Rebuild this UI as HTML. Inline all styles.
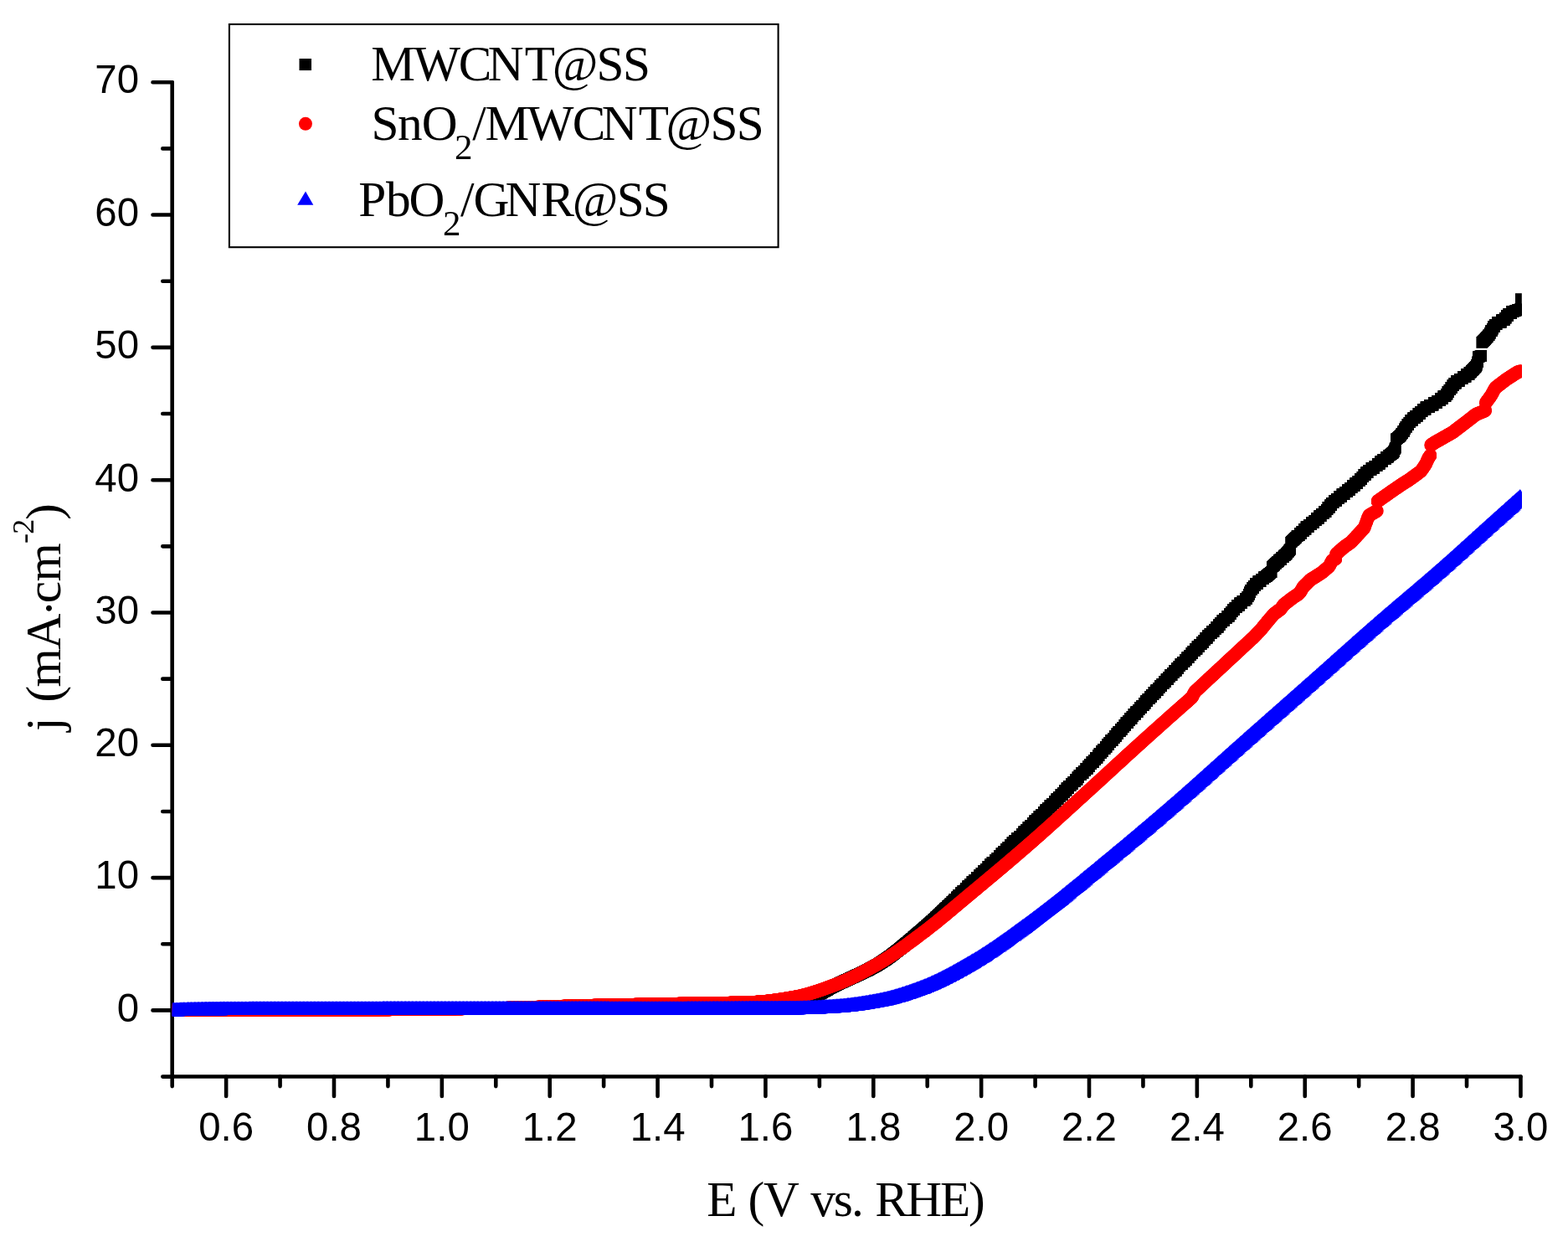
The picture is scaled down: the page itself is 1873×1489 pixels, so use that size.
<!DOCTYPE html>
<html lang="en"><head><meta charset="utf-8"><title>LSV polarization curves</title>
<style>
html,body{margin:0;padding:0;background:#fff;}
body{width:1873px;height:1489px;overflow:hidden;}
svg{display:block;}
</style></head><body>
<svg xmlns="http://www.w3.org/2000/svg" width="1873" height="1489" viewBox="0 0 1873 1489">
<rect width="1873" height="1489" fill="#fff"/>
<g stroke="#000" stroke-width="4.6" stroke-linecap="round" stroke-linejoin="round" fill="none">
<path d="M205.7 98.2V1285.45H1816.5"/>
<path d="M205.7 1285.58h-11.4M205.7 1206.42h-23.2M205.7 1127.27h-11.4M205.7 1048.11h-23.2M205.7 968.96h-11.4M205.7 889.80h-23.2M205.7 810.65h-11.4M205.7 731.49h-23.2M205.7 652.34h-11.4M205.7 573.18h-23.2M205.7 494.03h-11.4M205.7 414.87h-23.2M205.7 335.72h-11.4M205.7 256.56h-23.2M205.7 177.41h-11.4M205.7 98.25h-23.2M205.70 1285.45v11.65M270.13 1285.45v23.6M334.56 1285.45v11.65M398.99 1285.45v23.6M463.42 1285.45v11.65M527.85 1285.45v23.6M592.28 1285.45v11.65M656.71 1285.45v23.6M721.14 1285.45v11.65M785.57 1285.45v23.6M850.00 1285.45v11.65M914.43 1285.45v23.6M978.86 1285.45v11.65M1043.29 1285.45v23.6M1107.72 1285.45v11.65M1172.15 1285.45v23.6M1236.58 1285.45v11.65M1301.01 1285.45v23.6M1365.44 1285.45v11.65M1429.87 1285.45v23.6M1494.30 1285.45v11.65M1558.73 1285.45v23.6M1623.16 1285.45v11.65M1687.59 1285.45v23.6M1752.02 1285.45v11.65M1816.45 1285.45v23.6"/>
</g>
<defs>
<clipPath id="clip"><rect x="205.9" y="0" width="1611.9" height="1489"/></clipPath>
<marker id="mk" markerWidth="13.8" markerHeight="13.8" refX="6.9" refY="6.9" markerUnits="userSpaceOnUse"><rect width="13.8" height="13.8" fill="#000"/></marker>
<marker id="mb" markerWidth="19.0" markerHeight="16.2" refX="9.5" refY="8.1" markerUnits="userSpaceOnUse"><path d="M0 16.2L9.5 0L19.0 16.2Z" fill="#00f"/></marker>
<marker id="mr" markerWidth="15.9" markerHeight="15.9" refX="7.95" refY="7.95" markerUnits="userSpaceOnUse"><circle cx="7.95" cy="7.95" r="7.95" fill="#f00"/></marker>
</defs>
<g clip-path="url(#clip)" fill="none">
<polyline points="205.7,1204.5 206.4,1204.5 207.0,1204.5 207.7,1204.5 208.3,1204.5 209.0,1204.5 209.6,1204.5 210.3,1204.5 210.9,1204.5 211.6,1204.5 212.2,1204.5 212.9,1204.5 213.5,1204.5 214.2,1204.5 214.8,1204.5 215.5,1204.5 216.1,1204.5 216.8,1204.5 217.4,1204.5 218.1,1204.5 218.7,1204.5 219.4,1204.5 220.0,1204.5 220.7,1204.5 221.3,1204.5 222.0,1204.5 222.6,1204.5 223.3,1204.5 223.9,1204.5 224.6,1204.5 225.2,1204.5 225.9,1204.5 226.5,1204.5 227.2,1204.5 227.8,1204.5 228.5,1204.5 229.1,1204.5 229.8,1204.5 230.4,1204.5 231.1,1204.5 231.7,1204.5 232.4,1204.5 233.0,1204.5 233.7,1204.5 234.3,1204.5 235.0,1204.5 235.6,1204.5 236.3,1204.5 236.9,1204.5 237.6,1204.5 238.2,1204.5 238.9,1204.5 239.5,1204.5 240.2,1204.5 240.8,1204.5 241.5,1204.5 242.1,1204.5 242.8,1204.5 243.4,1204.5 244.1,1204.5 244.7,1204.5 245.4,1204.5 246.0,1204.5 246.7,1204.5 247.3,1204.5 248.0,1204.5 248.6,1204.5 249.3,1204.5 249.9,1204.5 250.6,1204.5 251.2,1204.5 251.9,1204.5 252.5,1204.5 253.2,1204.5 253.8,1204.5 254.5,1204.5 255.1,1204.5 255.8,1204.5 256.4,1204.5 257.1,1204.5 257.7,1204.5 258.4,1204.5 259.0,1204.5 259.7,1204.5 260.3,1204.5 261.0,1204.5 261.6,1204.5 262.3,1204.5 262.9,1204.5 263.6,1204.5 264.2,1204.5 264.9,1204.5 265.5,1204.5 266.2,1204.5 266.8,1204.5 267.5,1204.5 268.1,1204.5 268.8,1204.5 269.4,1204.5 270.1,1204.5 270.7,1204.5 271.4,1204.5 272.0,1204.5 272.7,1204.5 273.3,1204.5 274.0,1204.5 274.6,1204.5 275.3,1204.5 275.9,1204.5 276.6,1204.5 277.2,1204.5 277.9,1204.5 278.5,1204.5 279.2,1204.5 279.8,1204.5 280.5,1204.5 281.1,1204.5 281.8,1204.5 282.4,1204.5 283.1,1204.5 283.7,1204.5 284.4,1204.5 285.0,1204.5 285.7,1204.5 286.3,1204.5 287.0,1204.5 287.6,1204.5 288.3,1204.5 288.9,1204.5 289.6,1204.5 290.2,1204.5 290.9,1204.5 291.5,1204.5 292.2,1204.5 292.8,1204.5 293.5,1204.5 294.1,1204.5 294.8,1204.5 295.4,1204.5 296.1,1204.5 296.7,1204.5 297.4,1204.5 298.0,1204.5 298.7,1204.5 299.3,1204.5 300.0,1204.5 300.6,1204.5 301.3,1204.5 301.9,1204.5 302.6,1204.5 303.2,1204.5 303.9,1204.5 304.5,1204.5 305.2,1204.5 305.8,1204.5 306.5,1204.5 307.1,1204.5 307.8,1204.5 308.4,1204.5 309.1,1204.5 309.7,1204.5 310.4,1204.5 311.0,1204.5 311.7,1204.5 312.3,1204.5 313.0,1204.5 313.6,1204.5 314.3,1204.5 314.9,1204.5 315.6,1204.5 316.2,1204.5 316.9,1204.5 317.5,1204.5 318.2,1204.5 318.8,1204.5 319.5,1204.5 320.1,1204.5 320.8,1204.5 321.4,1204.5 322.1,1204.5 322.7,1204.5 323.4,1204.5 324.0,1204.5 324.7,1204.5 325.3,1204.5 326.0,1204.5 326.6,1204.5 327.3,1204.5 327.9,1204.5 328.6,1204.5 329.2,1204.5 329.9,1204.5 330.5,1204.5 331.2,1204.5 331.8,1204.5 332.5,1204.5 333.1,1204.5 333.8,1204.5 334.4,1204.5 335.1,1204.5 335.7,1204.5 336.4,1204.5 337.0,1204.5 337.7,1204.5 338.3,1204.5 339.0,1204.5 339.6,1204.5 340.3,1204.5 340.9,1204.5 341.6,1204.5 342.2,1204.5 342.9,1204.5 343.5,1204.5 344.2,1204.5 344.8,1204.5 345.5,1204.5 346.1,1204.5 346.8,1204.5 347.4,1204.5 348.1,1204.5 348.7,1204.5 349.4,1204.5 350.0,1204.5 350.7,1204.5 351.3,1204.5 352.0,1204.5 352.6,1204.5 353.3,1204.5 353.9,1204.5 354.6,1204.5 355.2,1204.5 355.9,1204.5 356.5,1204.5 357.2,1204.5 357.8,1204.5 358.5,1204.5 359.1,1204.5 359.8,1204.5 360.4,1204.5 361.1,1204.5 361.7,1204.5 362.4,1204.5 363.0,1204.5 363.7,1204.5 364.3,1204.5 365.0,1204.5 365.6,1204.5 366.3,1204.5 366.9,1204.5 367.6,1204.5 368.2,1204.5 368.9,1204.5 369.5,1204.5 370.2,1204.5 370.8,1204.5 371.5,1204.5 372.1,1204.5 372.8,1204.5 373.4,1204.5 374.1,1204.5 374.7,1204.5 375.4,1204.5 376.0,1204.5 376.7,1204.5 377.3,1204.5 378.0,1204.5 378.6,1204.5 379.3,1204.5 379.9,1204.5 380.6,1204.5 381.2,1204.5 381.9,1204.5 382.5,1204.5 383.2,1204.5 383.8,1204.5 384.5,1204.5 385.1,1204.5 385.8,1204.5 386.4,1204.5 387.1,1204.5 387.7,1204.5 388.4,1204.5 389.0,1204.5 389.7,1204.5 390.3,1204.5 391.0,1204.5 391.6,1204.5 392.3,1204.5 392.9,1204.5 393.6,1204.5 394.2,1204.5 394.9,1204.5 395.5,1204.5 396.2,1204.5 396.8,1204.5 397.5,1204.5 398.1,1204.5 398.8,1204.5 399.4,1204.5 400.1,1204.5 400.7,1204.5 401.4,1204.5 402.0,1204.5 402.7,1204.5 403.3,1204.5 404.0,1204.5 404.6,1204.5 405.3,1204.5 405.9,1204.5 406.6,1204.5 407.2,1204.5 407.9,1204.5 408.5,1204.5 409.2,1204.5 409.8,1204.5 410.5,1204.5 411.1,1204.5 411.8,1204.5 412.4,1204.5 413.1,1204.5 413.7,1204.5 414.4,1204.5 415.0,1204.5 415.7,1204.5 416.3,1204.5 417.0,1204.5 417.6,1204.5 418.3,1204.5 418.9,1204.5 419.6,1204.5 420.2,1204.5 420.9,1204.5 421.5,1204.5 422.2,1204.5 422.8,1204.5 423.5,1204.5 424.1,1204.5 424.8,1204.5 425.4,1204.5 426.1,1204.5 426.7,1204.5 427.4,1204.5 428.0,1204.5 428.7,1204.5 429.3,1204.5 430.0,1204.5 430.6,1204.5 431.3,1204.5 431.9,1204.5 432.6,1204.5 433.2,1204.5 433.9,1204.5 434.5,1204.5 435.2,1204.5 435.8,1204.5 436.5,1204.5 437.1,1204.5 437.8,1204.5 438.4,1204.5 439.1,1204.5 439.7,1204.5 440.4,1204.5 441.0,1204.5 441.7,1204.5 442.3,1204.5 443.0,1204.5 443.6,1204.5 444.3,1204.5 444.9,1204.5 445.6,1204.5 446.2,1204.5 446.9,1204.5 447.5,1204.5 448.2,1204.5 448.8,1204.5 449.5,1204.5 450.1,1204.5 450.8,1204.5 451.4,1204.5 452.1,1204.5 452.7,1204.5 453.4,1204.5 454.0,1204.5 454.7,1204.5 455.3,1204.5 456.0,1204.5 456.6,1204.5 457.3,1204.5 457.9,1204.5 458.6,1204.5 459.2,1204.5 459.9,1204.5 460.5,1204.5 461.2,1204.5 461.8,1204.5 462.5,1204.5 463.1,1204.5 463.8,1204.5 464.4,1204.5 465.1,1204.5 465.7,1204.5 466.4,1204.5 467.0,1204.5 467.7,1204.5 468.3,1204.5 469.0,1204.5 469.6,1204.5 470.3,1204.5 470.9,1204.5 471.6,1204.5 472.2,1204.5 472.9,1204.5 473.5,1204.5 474.2,1204.5 474.8,1204.5 475.5,1204.5 476.1,1204.5 476.8,1204.5 477.4,1204.5 478.1,1204.5 478.7,1204.5 479.4,1204.5 480.0,1204.5 480.7,1204.5 481.3,1204.5 482.0,1204.5 482.6,1204.5 483.3,1204.5 483.9,1204.5 484.6,1204.5 485.2,1204.5 485.9,1204.5 486.5,1204.5 487.2,1204.5 487.8,1204.5 488.5,1204.5 489.1,1204.5 489.8,1204.5 490.4,1204.5 491.1,1204.5 491.7,1204.5 492.4,1204.5 493.0,1204.5 493.7,1204.5 494.3,1204.5 495.0,1204.5 495.6,1204.5 496.3,1204.5 496.9,1204.5 497.6,1204.5 498.2,1204.5 498.9,1204.5 499.5,1204.5 500.2,1204.5 500.8,1204.5 501.5,1204.5 502.1,1204.5 502.8,1204.5 503.4,1204.5 504.1,1204.5 504.7,1204.5 505.4,1204.5 506.0,1204.5 506.7,1204.5 507.3,1204.5 508.0,1204.5 508.6,1204.5 509.3,1204.5 509.9,1204.5 510.6,1204.5 511.2,1204.5 511.9,1204.5 512.5,1204.5 513.2,1204.5 513.8,1204.5 514.5,1204.5 515.1,1204.5 515.8,1204.5 516.4,1204.5 517.1,1204.5 517.7,1204.5 518.4,1204.5 519.0,1204.5 519.7,1204.5 520.3,1204.5 521.0,1204.5 521.6,1204.5 522.3,1204.5 522.9,1204.5 523.6,1204.5 524.2,1204.5 524.9,1204.5 525.5,1204.5 526.2,1204.5 526.8,1204.5 527.5,1204.5 528.1,1204.5 528.8,1204.5 529.4,1204.5 530.1,1204.5 530.7,1204.5 531.4,1204.5 532.0,1204.5 532.7,1204.5 533.3,1204.5 534.0,1204.5 534.6,1204.5 535.3,1204.5 535.9,1204.5 536.6,1204.5 537.2,1204.5 537.9,1204.5 538.5,1204.5 539.2,1204.5 539.8,1204.5 540.5,1204.5 541.1,1204.5 541.8,1204.5 542.4,1204.5 543.1,1204.5 543.7,1204.5 544.4,1204.5 545.0,1204.5 545.7,1204.5 546.3,1204.5 547.0,1204.5 547.6,1204.5 548.3,1204.5 548.9,1204.5 549.6,1204.5 550.2,1204.5 550.9,1204.5 551.5,1204.5 552.2,1204.5 552.8,1204.5 553.5,1204.5 554.1,1204.5 554.8,1204.5 555.4,1204.5 556.1,1204.5 556.7,1204.5 557.4,1204.5 558.0,1204.5 558.7,1204.5 559.3,1204.5 560.0,1204.5 560.6,1204.5 561.3,1204.5 561.9,1204.5 562.6,1204.5 563.2,1204.5 563.9,1204.5 564.5,1204.5 565.2,1204.5 565.8,1204.5 566.5,1204.5 567.1,1204.5 567.8,1204.5 568.4,1204.5 569.1,1204.5 569.7,1204.5 570.4,1204.5 571.0,1204.5 571.7,1204.5 572.3,1204.5 573.0,1204.5 573.6,1204.5 574.3,1204.5 574.9,1204.5 575.6,1204.5 576.2,1204.5 576.9,1204.5 577.5,1204.5 578.2,1204.5 578.8,1204.5 579.5,1204.5 580.1,1204.5 580.8,1204.5 581.4,1204.5 582.1,1204.5 582.7,1204.5 583.4,1204.5 584.0,1204.5 584.7,1204.5 585.3,1204.5 586.0,1204.5 586.6,1204.5 587.3,1204.5 587.9,1204.5 588.6,1204.5 589.2,1204.5 589.9,1204.5 590.5,1204.5 591.2,1204.5 591.8,1204.5 592.5,1204.5 593.1,1204.5 593.8,1204.5 594.4,1204.5 595.1,1204.5 595.7,1204.5 596.4,1204.5 597.0,1204.5 597.7,1204.5 598.3,1204.5 599.0,1204.5 599.6,1204.5 600.3,1204.5 600.9,1204.5 601.6,1204.5 602.2,1204.5 602.9,1204.5 603.5,1204.5 604.2,1204.5 604.8,1204.5 605.5,1204.5 606.1,1204.5 606.8,1204.5 607.4,1204.5 608.1,1204.5 608.7,1204.5 609.4,1204.5 610.0,1204.5 610.7,1204.5 611.3,1204.5 612.0,1204.5 612.6,1204.5 613.3,1204.5 613.9,1204.5 614.6,1204.5 615.2,1204.5 615.9,1204.5 616.5,1204.5 617.2,1204.5 617.8,1204.5 618.5,1204.5 619.1,1204.5 619.8,1204.5 620.4,1204.5 621.1,1204.5 621.7,1204.5 622.4,1204.5 623.0,1204.5 623.7,1204.5 624.3,1204.5 625.0,1204.5 625.6,1204.5 626.3,1204.5 626.9,1204.5 627.6,1204.5 628.2,1204.5 628.9,1204.5 629.5,1204.5 630.2,1204.5 630.8,1204.5 631.5,1204.5 632.1,1204.5 632.8,1204.5 633.4,1204.5 634.1,1204.5 634.7,1204.5 635.4,1204.5 636.0,1204.5 636.7,1204.5 637.3,1204.5 638.0,1204.5 638.6,1204.5 639.3,1204.5 639.9,1204.5 640.6,1204.5 641.2,1204.5 641.9,1204.5 642.5,1204.5 643.2,1204.5 643.8,1204.5 644.5,1204.5 645.1,1204.5 645.8,1204.5 646.4,1204.5 647.1,1204.5 647.7,1204.5 648.4,1204.5 649.0,1204.5 649.7,1204.5 650.3,1204.5 651.0,1204.5 651.6,1204.5 652.3,1204.5 652.9,1204.5 653.6,1204.5 654.2,1204.5 654.9,1204.5 655.5,1204.5 656.2,1204.5 656.8,1204.5 657.5,1204.5 658.1,1204.5 658.8,1204.5 659.4,1204.5 660.1,1204.5 660.7,1204.5 661.4,1204.5 662.0,1204.5 662.7,1204.5 663.3,1204.5 664.0,1204.5 664.6,1204.5 665.3,1204.5 665.9,1204.5 666.6,1204.5 667.2,1204.5 667.9,1204.5 668.5,1204.5 669.2,1204.5 669.8,1204.5 670.5,1204.5 671.1,1204.5 671.8,1204.5 672.4,1204.5 673.1,1204.5 673.7,1204.5 674.4,1204.5 675.0,1204.5 675.7,1204.5 676.3,1204.5 677.0,1204.5 677.6,1204.5 678.3,1204.5 678.9,1204.5 679.6,1204.5 680.2,1204.5 680.9,1204.5 681.5,1204.5 682.2,1204.5 682.8,1204.5 683.5,1204.5 684.1,1204.5 684.8,1204.5 685.4,1204.5 686.1,1204.5 686.7,1204.5 687.4,1204.5 688.0,1204.5 688.7,1204.5 689.3,1204.5 690.0,1204.5 690.6,1204.5 691.3,1204.5 691.9,1204.5 692.6,1204.5 693.2,1204.5 693.9,1204.5 694.5,1204.5 695.2,1204.5 695.8,1204.5 696.5,1204.5 697.1,1204.5 697.8,1204.5 698.4,1204.5 699.1,1204.5 699.7,1204.5 700.4,1204.5 701.0,1204.5 701.7,1204.5 702.3,1204.5 703.0,1204.5 703.6,1204.5 704.3,1204.5 704.9,1204.5 705.6,1204.5 706.2,1204.5 706.9,1204.5 707.5,1204.5 708.2,1204.5 708.8,1204.5 709.5,1204.5 710.1,1204.5 710.8,1204.5 711.4,1204.5 712.1,1204.5 712.7,1204.5 713.4,1204.5 714.0,1204.5 714.7,1204.5 715.3,1204.5 716.0,1204.5 716.6,1204.5 717.3,1204.5 717.9,1204.5 718.6,1204.5 719.2,1204.5 719.9,1204.5 720.5,1204.5 721.2,1204.5 721.8,1204.5 722.5,1204.5 723.1,1204.5 723.8,1204.5 724.4,1204.5 725.1,1204.5 725.7,1204.5 726.4,1204.5 727.0,1204.5 727.7,1204.5 728.3,1204.5 729.0,1204.5 729.6,1204.5 730.3,1204.5 730.9,1204.5 731.6,1204.5 732.2,1204.5 732.9,1204.5 733.5,1204.5 734.2,1204.5 734.8,1204.5 735.5,1204.5 736.1,1204.5 736.8,1204.5 737.4,1204.5 738.1,1204.5 738.7,1204.5 739.4,1204.5 740.0,1204.5 740.7,1204.5 741.3,1204.5 742.0,1204.5 742.6,1204.5 743.3,1204.5 743.9,1204.5 744.6,1204.5 745.2,1204.5 745.9,1204.5 746.5,1204.5 747.2,1204.5 747.8,1204.5 748.5,1204.5 749.1,1204.5 749.8,1204.5 750.4,1204.5 751.1,1204.5 751.7,1204.5 752.4,1204.5 753.0,1204.5 753.7,1204.5 754.3,1204.5 755.0,1204.5 755.6,1204.5 756.3,1204.5 756.9,1204.5 757.6,1204.5 758.2,1204.5 758.9,1204.5 759.5,1204.5 760.2,1204.5 760.8,1204.5 761.5,1204.5 762.1,1204.5 762.8,1204.5 763.4,1204.5 764.1,1204.5 764.7,1204.5 765.4,1204.5 766.0,1204.5 766.7,1204.5 767.3,1204.5 768.0,1204.5 768.6,1204.5 769.3,1204.5 769.9,1204.5 770.6,1204.5 771.2,1204.5 771.9,1204.5 772.5,1204.5 773.2,1204.5 773.8,1204.5 774.5,1204.5 775.1,1204.5 775.8,1204.5 776.4,1204.5 777.1,1204.5 777.7,1204.5 778.4,1204.5 779.0,1204.5 779.7,1204.5 780.3,1204.5 781.0,1204.5 781.6,1204.5 782.3,1204.5 782.9,1204.5 783.6,1204.5 784.2,1204.5 784.9,1204.5 785.5,1204.5 786.2,1204.5 786.8,1204.5 787.5,1204.5 788.1,1204.5 788.8,1204.5 789.4,1204.5 790.1,1204.5 790.7,1204.5 791.4,1204.5 792.0,1204.5 792.7,1204.5 793.3,1204.5 794.0,1204.5 794.6,1204.5 795.3,1204.5 795.9,1204.5 796.6,1204.5 797.2,1204.5 797.9,1204.5 798.5,1204.5 799.2,1204.5 799.8,1204.5 800.5,1204.5 801.1,1204.5 801.8,1204.5 802.4,1204.5 803.1,1204.5 803.7,1204.5 804.4,1204.5 805.0,1204.5 805.7,1204.5 806.3,1204.5 807.0,1204.5 807.6,1204.5 808.3,1204.5 808.9,1204.5 809.6,1204.5 810.2,1204.5 810.9,1204.5 811.5,1204.5 812.2,1204.5 812.8,1204.5 813.5,1204.5 814.1,1204.5 814.8,1204.5 815.4,1204.5 816.1,1204.5 816.7,1204.5 817.4,1204.5 818.0,1204.5 818.7,1204.5 819.3,1204.5 820.0,1204.5 820.6,1204.5 821.3,1204.5 821.9,1204.5 822.6,1204.5 823.2,1204.5 823.9,1204.5 824.5,1204.5 825.2,1204.5 825.8,1204.5 826.5,1204.5 827.1,1204.5 827.8,1204.5 828.4,1204.5 829.1,1204.5 829.7,1204.5 830.4,1204.5 831.0,1204.5 831.7,1204.5 832.3,1204.5 833.0,1204.5 833.6,1204.5 834.3,1204.5 834.9,1204.5 835.6,1204.5 836.2,1204.5 836.9,1204.5 837.5,1204.5 838.2,1204.5 838.8,1204.5 839.5,1204.5 840.1,1204.5 840.8,1204.5 841.4,1204.5 842.1,1204.5 842.7,1204.5 843.4,1204.5 844.0,1204.5 844.7,1204.5 845.3,1204.5 846.0,1204.5 846.6,1204.5 847.3,1204.5 847.9,1204.5 848.6,1204.5 849.2,1204.5 849.9,1204.5 850.5,1204.5 851.2,1204.5 851.8,1204.5 852.5,1204.5 853.1,1204.5 853.8,1204.5 854.4,1204.5 855.1,1204.5 855.7,1204.5 856.4,1204.5 857.0,1204.5 857.7,1204.5 858.3,1204.5 859.0,1204.5 859.6,1204.5 860.3,1204.5 860.9,1204.5 861.6,1204.5 862.2,1204.5 862.9,1204.5 863.5,1204.5 864.2,1204.5 864.8,1204.5 865.5,1204.5 866.1,1204.5 866.8,1204.5 867.4,1204.5 868.1,1204.5 868.7,1204.5 869.4,1204.5 870.0,1204.5 870.7,1204.5 871.3,1204.5 872.0,1204.5 872.6,1204.5 873.3,1204.5 873.9,1204.5 874.6,1204.5 875.2,1204.5 875.9,1204.5 876.5,1204.5 877.2,1204.5 877.8,1204.5 878.5,1204.5 879.1,1204.5 879.8,1204.5 880.4,1204.5 881.1,1204.5 881.7,1204.5 882.4,1204.5 883.0,1204.5 883.7,1204.5 884.3,1204.5 885.0,1204.5 885.6,1204.5 886.3,1204.5 886.9,1204.5 887.6,1204.5 888.2,1204.5 888.9,1204.5 889.5,1204.5 890.2,1204.5 890.8,1204.5 891.5,1204.5 892.1,1204.5 892.8,1204.5 893.4,1204.5 894.1,1204.5 894.7,1204.5 895.4,1204.5 896.0,1204.5 896.7,1204.5 897.3,1204.5 898.0,1204.5 898.6,1204.5 899.3,1204.5 899.9,1204.5 900.6,1204.5 901.2,1204.5 901.9,1204.5 902.5,1204.5 903.2,1204.5 903.8,1204.4 904.5,1204.4 905.1,1204.4 905.8,1204.4 906.4,1204.3 907.1,1204.3 907.7,1204.3 908.4,1204.2 909.0,1204.2 909.7,1204.1 910.3,1204.1 911.0,1204.1 911.6,1204.0 912.3,1203.9 912.9,1203.9 913.6,1203.8 914.2,1203.8 914.9,1203.7 915.5,1203.6 916.2,1203.6 916.8,1203.5 917.5,1203.4 918.1,1203.3 918.8,1203.2 919.4,1203.2 920.1,1203.1 920.7,1203.0 921.4,1202.9 922.0,1202.8 922.7,1202.7 923.3,1202.6 924.0,1202.5 924.6,1202.4 925.3,1202.3 925.9,1202.2 926.6,1202.1 927.2,1202.0 927.9,1201.9 928.5,1201.8 929.2,1201.6 929.8,1201.5 930.5,1201.4 931.1,1201.3 931.8,1201.2 932.4,1201.0 933.1,1200.9 933.7,1200.8 934.4,1200.7 935.0,1200.5 935.7,1200.4 936.3,1200.3 937.0,1200.1 937.6,1200.0 938.3,1199.9 938.9,1199.7 939.6,1199.6 940.2,1199.4 940.9,1199.3 941.5,1199.2 942.2,1199.0 942.8,1198.9 943.5,1198.7 944.1,1198.6 944.8,1198.4 945.4,1198.3 946.1,1198.1 946.7,1198.0 947.4,1197.8 948.0,1197.7 948.7,1197.5 949.3,1197.3 950.0,1197.2 950.6,1197.0 951.3,1196.9 951.9,1196.7 952.6,1196.6 953.2,1196.4 953.9,1196.2 954.5,1196.1 955.2,1195.9 955.8,1195.8 956.5,1195.6 957.1,1195.4 957.8,1195.3 958.4,1195.1 959.1,1194.9 959.7,1194.8 960.4,1194.6 961.0,1194.4 961.7,1194.3 962.3,1194.1 963.0,1193.9 963.6,1193.7 964.3,1193.4 964.9,1193.2 965.6,1193.0 966.2,1192.7 966.9,1192.5 967.5,1192.2 968.2,1192.0 968.8,1191.7 969.5,1191.4 970.1,1191.2 970.8,1190.9 971.4,1190.6 972.1,1190.3 972.7,1190.0 973.4,1189.7 974.0,1189.4 974.7,1189.0 975.3,1188.7 976.0,1188.4 976.6,1188.1 977.3,1187.7 977.9,1187.4 978.6,1187.0 979.2,1186.7 979.9,1186.4 980.5,1186.0 981.2,1185.7 981.8,1185.3 982.5,1185.0 983.1,1184.6 983.8,1184.2 984.4,1183.9 985.1,1183.5 985.7,1183.2 986.4,1182.8 987.0,1182.4 987.7,1182.1 988.3,1181.7 989.0,1181.4 989.6,1181.0 990.3,1180.6 990.9,1180.3 991.6,1179.9 992.2,1179.6 992.9,1179.2 993.5,1178.9 994.2,1178.5 994.8,1178.2 995.5,1177.8 996.1,1177.5 996.8,1177.1 997.4,1176.8 998.1,1176.5 998.7,1176.1 999.4,1175.8 1000.0,1175.5 1000.7,1175.2 1001.3,1174.9 1002.0,1174.6 1002.6,1174.3 1003.3,1173.9 1003.9,1173.6 1004.6,1173.3 1005.2,1173.0 1005.9,1172.7 1006.5,1172.4 1007.2,1172.1 1007.8,1171.8 1008.5,1171.5 1009.1,1171.2 1009.8,1170.9 1010.4,1170.6 1011.1,1170.3 1011.7,1170.0 1012.4,1169.7 1013.0,1169.4 1013.7,1169.1 1014.3,1168.8 1015.0,1168.5 1015.6,1168.2 1016.3,1167.9 1016.9,1167.6 1017.6,1167.3 1018.2,1167.0 1018.9,1166.7 1019.5,1166.4 1020.2,1166.1 1020.8,1165.8 1021.5,1165.5 1022.1,1165.2 1022.8,1164.9 1023.4,1164.6 1024.1,1164.3 1024.7,1164.0 1025.4,1163.7 1026.0,1163.4 1026.7,1163.1 1027.3,1162.8 1028.0,1162.5 1028.6,1162.2 1029.3,1161.9 1029.9,1161.6 1030.6,1161.2 1031.2,1160.9 1031.9,1160.6 1032.5,1160.3 1033.2,1160.0 1033.8,1159.6 1034.5,1159.3 1035.1,1159.0 1035.8,1158.7 1036.4,1158.3 1037.1,1158.0 1037.7,1157.7 1038.4,1157.3 1039.0,1157.0 1039.7,1156.6 1040.3,1156.3 1041.0,1155.9 1041.6,1155.6 1042.3,1155.2 1042.9,1154.9 1043.6,1154.5 1044.2,1154.2 1044.9,1153.8 1045.5,1153.4 1046.2,1153.0 1046.8,1152.7 1047.5,1152.3 1048.1,1151.9 1048.8,1151.5 1049.4,1151.1 1050.1,1150.7 1050.7,1150.3 1051.4,1149.9 1052.0,1149.5 1052.7,1149.1 1053.3,1148.7 1054.0,1148.3 1054.6,1147.9 1055.3,1147.4 1055.9,1147.0 1056.6,1146.6 1057.2,1146.1 1057.9,1145.7 1058.5,1145.2 1059.2,1144.8 1059.8,1144.3 1060.5,1143.9 1061.1,1143.4 1061.8,1142.9 1062.4,1142.5 1063.1,1142.0 1063.7,1141.5 1064.4,1141.0 1065.0,1140.5 1065.7,1140.0 1066.3,1139.6 1067.0,1139.1 1067.6,1138.6 1068.3,1138.1 1068.9,1137.6 1069.6,1137.1 1070.2,1136.6 1070.9,1136.0 1071.5,1135.5 1072.2,1135.0 1072.8,1134.5 1073.5,1134.0 1074.1,1133.4 1074.8,1132.9 1075.4,1132.4 1076.1,1131.9 1076.7,1131.3 1077.4,1130.8 1078.0,1130.3 1078.7,1129.7 1079.3,1129.2 1080.0,1128.7 1080.6,1128.1 1081.3,1127.6 1081.9,1127.0 1082.6,1126.5 1083.2,1125.9 1083.9,1125.4 1084.5,1124.8 1085.2,1124.3 1085.8,1123.7 1086.5,1123.2 1087.1,1122.6 1087.8,1122.1 1088.4,1121.5 1089.1,1121.0 1089.7,1120.4 1090.4,1119.9 1091.0,1119.3 1091.7,1118.7 1092.3,1118.2 1093.0,1117.6 1093.6,1117.1 1094.3,1116.5 1094.9,1116.0 1095.6,1115.4 1096.2,1114.9 1096.9,1114.3 1097.5,1113.7 1098.2,1113.2 1098.8,1112.6 1099.5,1112.1 1100.1,1111.5 1100.8,1111.0 1101.4,1110.4 1102.1,1109.8 1102.7,1109.3 1103.4,1108.7 1104.0,1108.2 1104.7,1107.6 1105.3,1107.0 1106.0,1106.4 1106.6,1105.9 1107.3,1105.3 1107.9,1104.7 1108.6,1104.1 1109.2,1103.6 1109.9,1103.0 1110.5,1102.4 1111.2,1101.8 1111.8,1101.2 1112.5,1100.6 1113.1,1100.0 1113.8,1099.4 1114.4,1098.9 1115.1,1098.2 1115.7,1097.6 1116.4,1097.1 1117.0,1096.5 1117.7,1095.7 1118.3,1095.2 1119.0,1094.6 1119.6,1094.1 1120.3,1093.6 1120.9,1092.7 1121.6,1092.2 1122.2,1091.7 1122.9,1091.2 1123.5,1090.1 1124.2,1089.7 1124.8,1089.2 1125.5,1088.8 1126.1,1087.6 1126.8,1087.1 1127.4,1086.7 1128.1,1086.3 1128.7,1085.0 1129.4,1084.6 1130.0,1084.2 1130.7,1083.8 1131.3,1083.5 1132.0,1082.0 1132.6,1081.6 1133.3,1081.3 1133.9,1081.0 1134.6,1079.4 1135.2,1079.1 1135.9,1078.8 1136.5,1078.5 1137.2,1076.8 1137.8,1076.5 1138.5,1076.3 1139.1,1076.0 1139.8,1074.2 1140.4,1073.9 1141.1,1073.7 1141.7,1073.5 1142.4,1071.5 1143.0,1071.3 1143.7,1071.1 1144.3,1071.0 1145.0,1068.9 1145.6,1068.7 1146.3,1068.6 1146.9,1068.4 1147.6,1066.2 1148.2,1066.1 1148.9,1066.0 1149.5,1065.9 1150.2,1063.5 1150.8,1063.5 1151.5,1063.4 1152.1,1063.4 1152.8,1063.3 1153.4,1060.8 1154.1,1060.8 1154.7,1060.8 1155.4,1060.8 1156.0,1058.2 1156.7,1058.2 1157.3,1058.2 1158.0,1058.2 1158.6,1055.6 1159.3,1055.6 1159.9,1055.6 1160.6,1055.6 1161.2,1053.0 1161.9,1053.0 1162.5,1053.0 1163.2,1053.0 1163.8,1050.4 1164.5,1050.4 1165.1,1050.4 1165.8,1050.4 1166.4,1047.8 1167.1,1047.8 1167.7,1047.8 1168.4,1047.8 1169.0,1047.8 1169.7,1045.2 1170.3,1045.2 1171.0,1045.2 1171.6,1045.2 1172.3,1042.6 1172.9,1042.6 1173.6,1042.6 1174.2,1042.6 1174.9,1040.0 1175.5,1040.0 1176.2,1040.0 1176.8,1040.0 1177.5,1037.4 1178.1,1037.4 1178.8,1037.4 1179.4,1037.4 1180.1,1034.8 1180.7,1034.8 1181.4,1034.8 1182.0,1034.8 1182.7,1032.2 1183.3,1032.2 1184.0,1032.2 1184.6,1032.2 1185.3,1029.6 1185.9,1029.6 1186.6,1029.6 1187.2,1029.6 1187.9,1029.6 1188.5,1027.0 1189.2,1027.0 1189.8,1027.0 1190.5,1027.0 1191.1,1024.4 1191.8,1024.4 1192.4,1024.4 1193.1,1024.4 1193.7,1021.8 1194.4,1021.8 1195.0,1021.8 1195.7,1021.8 1196.3,1019.2 1197.0,1019.2 1197.6,1019.2 1198.3,1019.2 1198.9,1016.6 1199.6,1016.6 1200.2,1016.6 1200.9,1016.6 1201.5,1014.0 1202.2,1014.0 1202.8,1014.0 1203.5,1014.0 1204.1,1011.4 1204.8,1011.4 1205.4,1011.4 1206.1,1011.4 1206.7,1008.8 1207.4,1008.8 1208.0,1008.8 1208.7,1008.8 1209.3,1006.2 1210.0,1006.2 1210.6,1006.2 1211.3,1006.2 1211.9,1003.6 1212.6,1003.6 1213.2,1003.6 1213.9,1003.6 1214.5,1001.0 1215.2,1001.0 1215.8,1001.0 1216.5,1001.0 1217.1,1001.0 1217.8,998.4 1218.4,998.4 1219.1,998.4 1219.7,998.4 1220.4,995.8 1221.0,995.8 1221.7,995.8 1222.3,995.8 1223.0,993.2 1223.6,993.2 1224.3,993.2 1224.9,993.2 1225.6,990.6 1226.2,990.6 1226.9,990.6 1227.5,990.6 1228.2,988.0 1228.8,988.0 1229.5,988.0 1230.1,988.0 1230.8,985.4 1231.4,985.4 1232.1,985.4 1232.7,985.4 1233.4,982.8 1234.0,982.8 1234.7,982.8 1235.3,982.8 1236.0,980.2 1236.6,980.2 1237.3,980.2 1237.9,980.2 1238.6,977.6 1239.2,977.6 1239.9,977.6 1240.5,977.6 1241.2,975.0 1241.8,975.0 1242.5,975.0 1243.1,975.0 1243.8,972.4 1244.4,972.4 1245.1,972.4 1245.7,972.4 1246.4,969.8 1247.0,969.8 1247.7,969.8 1248.3,969.8 1249.0,967.2 1249.6,967.2 1250.3,967.2 1250.9,967.2 1251.6,964.6 1252.2,964.6 1252.9,964.6 1253.5,964.6 1254.2,962.0 1254.8,962.0 1255.5,962.0 1256.1,962.0 1256.8,959.4 1257.4,959.4 1258.1,959.4 1258.7,959.4 1259.4,956.8 1260.0,956.8 1260.7,956.8 1261.3,956.8 1262.0,954.2 1262.6,954.2 1263.3,954.2 1263.9,954.2 1264.6,951.6 1265.2,951.6 1265.9,951.6 1266.5,951.6 1267.2,949.0 1267.8,949.0 1268.5,949.0 1269.1,949.0 1269.8,946.4 1270.4,946.4 1271.1,946.4 1271.7,943.8 1272.4,943.8 1273.0,943.8 1273.7,943.8 1274.3,941.2 1275.0,941.2 1275.6,941.2 1276.3,941.2 1276.9,938.6 1277.6,938.6 1278.2,938.6 1278.9,938.6 1279.5,936.0 1280.2,936.0 1280.8,936.0 1281.5,936.0 1282.1,933.4 1282.8,933.4 1283.4,933.4 1284.1,933.4 1284.7,930.8 1285.4,930.8 1286.0,930.8 1286.7,930.8 1287.3,928.2 1288.0,928.2 1288.6,928.2 1289.3,925.6 1289.9,925.6 1290.6,925.6 1291.2,925.6 1291.9,923.0 1292.5,923.0 1293.2,923.0 1293.8,923.0 1294.5,920.4 1295.1,920.4 1295.8,920.4 1296.4,920.4 1297.1,917.8 1297.7,917.8 1298.4,917.8 1299.0,917.8 1299.7,915.2 1300.3,915.2 1301.0,915.2 1301.6,912.6 1302.3,912.6 1302.9,912.6 1303.6,912.6 1304.2,910.0 1304.9,910.0 1305.5,910.0 1306.2,910.0 1306.8,907.4 1307.5,907.4 1308.1,907.4 1308.8,904.8 1309.4,904.8 1310.1,904.8 1310.7,904.8 1311.4,902.2 1312.0,902.2 1312.7,902.2 1313.3,899.6 1314.0,899.6 1314.6,899.6 1315.3,899.6 1315.9,897.0 1316.6,897.0 1317.2,897.0 1317.9,894.4 1318.5,894.4 1319.2,894.4 1319.8,894.4 1320.5,891.8 1321.1,891.8 1321.8,891.8 1322.4,889.2 1323.1,889.2 1323.7,889.2 1324.4,889.2 1325.0,886.6 1325.7,886.6 1326.3,886.6 1327.0,884.0 1327.6,884.0 1328.3,884.0 1328.9,884.0 1329.6,881.4 1330.2,881.4 1330.9,881.4 1331.5,878.8 1332.2,878.8 1332.8,878.8 1333.5,878.8 1334.1,876.2 1334.8,876.2 1335.4,876.2 1336.1,873.6 1336.7,873.6 1337.4,873.6 1338.0,873.6 1338.7,871.0 1339.3,871.0 1340.0,871.0 1340.6,868.4 1341.3,868.4 1341.9,868.4 1342.6,868.4 1343.2,865.8 1343.9,865.8 1344.5,865.8 1345.2,863.2 1345.8,863.2 1346.5,863.2 1347.1,863.2 1347.8,860.6 1348.4,860.6 1349.1,860.6 1349.7,858.0 1350.4,858.0 1351.0,858.0 1351.7,858.0 1352.3,855.4 1353.0,855.4 1353.6,855.4 1354.3,852.8 1354.9,852.8 1355.6,852.8 1356.2,852.8 1356.9,850.2 1357.5,850.2 1358.2,850.2 1358.8,850.2 1359.5,847.6 1360.1,847.6 1360.8,847.6 1361.4,845.0 1362.1,845.0 1362.7,845.0 1363.4,845.0 1364.0,842.4 1364.7,842.4 1365.3,842.4 1366.0,842.4 1366.6,839.8 1367.3,839.8 1367.9,839.8 1368.6,837.2 1369.2,837.2 1369.9,837.2 1370.5,837.2 1371.2,834.6 1371.8,834.6 1372.5,834.6 1373.1,834.6 1373.8,832.0 1374.4,832.0 1375.1,832.0 1375.7,829.4 1376.4,829.4 1377.0,829.4 1377.7,829.4 1378.3,826.8 1379.0,826.8 1379.6,826.8 1380.3,826.8 1380.9,824.2 1381.6,824.2 1382.2,824.2 1382.9,824.2 1383.5,821.6 1384.2,821.6 1384.8,821.6 1385.5,819.0 1386.1,819.0 1386.8,819.0 1387.4,819.0 1388.1,816.4 1388.7,816.4 1389.4,816.4 1390.0,816.4 1390.7,813.8 1391.3,813.8 1392.0,813.8 1392.6,813.8 1393.3,811.2 1393.9,811.2 1394.6,811.2 1395.2,811.2 1395.9,808.6 1396.5,808.6 1397.2,808.6 1397.8,806.0 1398.5,806.0 1399.1,806.0 1399.8,806.0 1400.4,803.4 1401.1,803.4 1401.7,803.4 1402.4,803.4 1403.0,800.8 1403.7,800.8 1404.3,800.8 1405.0,800.8 1405.6,798.2 1406.3,798.2 1406.9,798.2 1407.6,798.2 1408.2,795.6 1408.9,795.6 1409.5,795.6 1410.2,793.0 1410.8,793.0 1411.5,793.0 1412.1,793.0 1412.8,790.4 1413.4,790.4 1414.1,790.4 1414.7,790.4 1415.4,787.8 1416.0,787.8 1416.7,787.8 1417.3,787.8 1418.0,785.2 1418.6,785.2 1419.3,785.2 1419.9,785.2 1420.6,782.6 1421.2,782.6 1421.9,782.6 1422.5,782.6 1423.2,780.0 1423.8,780.0 1424.5,780.0 1425.1,777.4 1425.8,777.4 1426.4,777.4 1427.1,777.4 1427.7,774.8 1428.4,774.8 1429.0,774.8 1429.7,774.8 1430.3,772.2 1431.0,772.2 1431.6,772.2 1432.3,772.2 1432.9,769.6 1433.6,769.6 1434.2,769.6 1434.9,769.6 1435.5,767.0 1436.2,767.0 1436.8,767.0 1437.5,767.0 1438.1,764.4 1438.8,764.4 1439.4,764.4 1440.1,761.8 1440.7,761.8 1441.4,761.8 1442.0,761.8 1442.7,759.2 1443.3,759.2 1444.0,759.2 1444.6,759.2 1445.3,756.6 1445.9,756.6 1446.6,756.6 1447.2,756.6 1447.9,754.0 1448.5,754.0 1449.2,754.0 1449.8,754.0 1450.5,751.4 1451.1,751.4 1451.8,751.4 1452.4,751.4 1453.1,748.8 1453.7,748.8 1454.4,748.8 1455.0,748.8 1455.7,746.2 1456.3,746.2 1457.0,746.2 1457.6,743.6 1458.3,743.6 1458.9,743.6 1459.6,743.6 1460.2,741.0 1460.9,741.0 1461.5,741.0 1462.2,741.0 1462.8,738.4 1463.5,738.4 1464.1,738.4 1464.8,738.4 1465.4,738.4 1466.1,735.8 1466.7,735.8 1467.4,735.8 1468.0,735.8 1468.7,733.2 1469.3,733.2 1470.0,733.2 1470.6,730.6 1471.3,730.6 1471.9,730.6 1472.6,728.0 1473.2,728.0 1473.9,728.0 1474.5,728.0 1475.2,725.4 1475.8,725.4 1476.5,725.4 1477.1,725.4 1477.8,722.8 1478.4,722.8 1479.1,722.8 1479.7,722.8 1480.4,722.8 1481.0,720.2 1481.7,720.2 1482.3,720.2 1483.0,720.2 1483.6,720.2 1484.3,717.6 1484.9,717.6 1485.6,717.6 1486.2,717.6 1486.9,717.6 1487.5,715.0 1488.2,715.0 1488.8,715.0 1489.5,715.0 1490.1,712.4 1490.8,712.4 1491.4,709.8 1492.1,709.8 1492.7,707.2 1493.4,707.2 1494.0,704.6 1494.7,704.6 1495.3,704.6 1496.0,702.0 1496.6,702.0 1497.3,702.0 1497.9,699.4 1498.6,699.4 1499.2,699.4 1499.9,696.8 1500.5,696.8 1501.2,696.8 1501.8,696.8 1502.5,696.8 1503.1,694.2 1503.8,694.2 1504.4,694.2 1505.1,694.2 1505.7,694.2 1506.4,691.6 1507.0,691.6 1507.7,691.6 1508.3,691.6 1509.0,691.5 1509.6,689.3 1510.3,689.3 1510.9,689.1 1511.6,688.8 1512.2,688.5 1512.9,688.0 1513.5,687.1 1514.2,686.7 1514.8,686.2 1515.5,685.7 1516.1,685.2 1516.8,684.6 1517.4,684.1 1518.1,683.6 1518.7,683.1 1519.4,677.2 1520.0,676.6 1520.7,676.0 1521.3,675.4 1522.0,674.8 1522.6,674.2 1523.3,673.6 1523.9,673.0 1524.6,672.5 1525.2,671.6 1525.9,671.1 1526.5,670.7 1527.2,670.4 1527.8,668.7 1528.5,668.4 1529.1,668.2 1529.8,668.2 1530.4,668.2 1531.1,665.6 1531.7,665.6 1532.4,665.5 1533.0,665.3 1533.7,663.5 1534.3,663.3 1535.0,663.0 1535.6,662.5 1536.3,661.9 1536.9,661.1 1537.6,660.3 1538.2,659.5 1538.9,658.7 1539.5,657.9 1540.2,657.1 1540.8,656.2 1541.5,655.4 1542.1,647.4 1542.8,646.8 1543.4,646.2 1544.1,645.6 1544.7,645.0 1545.4,644.4 1546.0,643.8 1546.7,643.2 1547.3,642.6 1548.0,642.0 1548.6,641.6 1549.3,640.3 1549.9,639.9 1550.6,639.6 1551.2,639.4 1551.9,639.4 1552.5,637.1 1553.2,637.0 1553.8,637.0 1554.5,637.0 1555.1,634.4 1555.8,634.4 1556.4,634.4 1557.1,634.4 1557.7,631.8 1558.4,631.8 1559.0,631.8 1559.7,631.8 1560.3,629.2 1561.0,629.2 1561.6,629.2 1562.3,629.2 1562.9,629.2 1563.6,626.6 1564.2,626.6 1564.9,626.6 1565.5,626.6 1566.2,626.6 1566.8,624.0 1567.5,624.0 1568.1,624.0 1568.8,624.0 1569.4,624.0 1570.1,621.4 1570.7,621.4 1571.4,621.4 1572.0,621.4 1572.7,618.8 1573.3,618.8 1574.0,618.8 1574.6,618.8 1575.3,618.8 1575.9,616.2 1576.6,616.2 1577.2,616.2 1577.9,616.2 1578.5,613.6 1579.2,613.6 1579.8,613.6 1580.5,613.6 1581.1,613.6 1581.8,611.0 1582.4,611.0 1583.1,611.0 1583.7,611.0 1584.4,608.4 1585.0,608.4 1585.7,608.4 1586.3,605.8 1587.0,605.8 1587.6,605.8 1588.3,605.8 1588.9,603.2 1589.6,603.2 1590.2,603.2 1590.9,600.6 1591.5,600.6 1592.2,600.6 1592.8,600.6 1593.5,598.0 1594.1,598.0 1594.8,598.0 1595.4,598.0 1596.1,598.0 1596.7,595.4 1597.4,595.4 1598.0,595.4 1598.7,595.4 1599.3,595.4 1600.0,592.8 1600.6,592.8 1601.3,592.8 1601.9,592.8 1602.6,592.8 1603.2,590.2 1603.9,590.2 1604.5,590.2 1605.2,590.2 1605.8,590.2 1606.5,587.6 1607.1,587.6 1607.8,587.6 1608.4,587.6 1609.1,587.6 1609.7,585.0 1610.4,585.0 1611.0,585.0 1611.7,585.0 1612.3,585.0 1613.0,582.4 1613.6,582.4 1614.3,582.4 1614.9,582.4 1615.6,579.8 1616.2,579.8 1616.9,579.8 1617.5,579.8 1618.2,579.8 1618.8,577.2 1619.5,577.2 1620.1,577.2 1620.8,577.2 1621.4,577.2 1622.1,574.6 1622.7,574.6 1623.4,574.6 1624.0,574.6 1624.7,572.0 1625.3,572.0 1626.0,572.0 1626.6,572.0 1627.3,569.4 1627.9,569.4 1628.6,569.4 1629.2,566.8 1629.9,566.8 1630.5,566.8 1631.2,566.8 1631.8,564.2 1632.5,564.2 1633.1,564.2 1633.8,564.2 1634.4,561.6 1635.1,561.6 1635.7,561.6 1636.4,561.6 1637.0,561.6 1637.7,561.6 1638.3,559.0 1639.0,559.0 1639.6,559.0 1640.3,559.0 1640.9,559.0 1641.6,559.0 1642.2,556.4 1642.9,556.4 1643.5,556.4 1644.2,556.4 1644.8,556.4 1645.5,553.8 1646.1,553.8 1646.8,553.8 1647.4,553.8 1648.1,553.8 1648.7,551.2 1649.4,551.2 1650.0,551.2 1650.7,551.2 1651.3,551.2 1652.0,548.6 1652.6,548.6 1653.3,548.6 1653.9,548.6 1654.6,548.6 1655.2,548.6 1655.9,546.0 1656.5,546.1 1657.2,546.0 1657.8,545.8 1658.5,545.5 1659.1,543.8 1659.8,543.5 1660.4,543.1 1661.1,542.7 1661.7,542.2 1662.4,541.7 1663.0,541.2 1663.7,540.8 1664.3,540.3 1665.0,539.1 1665.6,537.6 1666.3,536.2 1666.9,534.7 1667.6,524.5 1668.2,524.0 1668.9,523.5 1669.5,523.0 1670.2,522.4 1670.8,521.9 1671.5,521.4 1672.1,520.8 1672.8,520.0 1673.4,519.4 1674.1,518.1 1674.7,517.5 1675.4,517.2 1676.0,515.2 1676.7,514.9 1677.3,514.7 1678.0,512.2 1678.6,512.2 1679.3,509.6 1679.9,509.6 1680.6,509.6 1681.2,507.0 1681.9,507.0 1682.5,507.0 1683.2,504.4 1683.8,504.4 1684.5,504.4 1685.1,501.8 1685.8,501.8 1686.4,501.8 1687.1,501.8 1687.7,499.2 1688.4,499.2 1689.0,499.2 1689.7,499.2 1690.3,499.2 1691.0,496.6 1691.6,496.6 1692.3,496.6 1692.9,496.6 1693.6,496.6 1694.2,494.0 1694.9,494.0 1695.5,494.0 1696.2,494.0 1696.8,491.4 1697.5,491.4 1698.1,491.4 1698.8,491.4 1699.4,488.8 1700.1,488.8 1700.7,488.8 1701.4,488.8 1702.0,488.8 1702.7,488.8 1703.3,486.2 1704.0,486.2 1704.6,486.2 1705.3,486.2 1705.9,486.2 1706.6,486.2 1707.2,486.2 1707.9,483.6 1708.5,483.6 1709.2,483.6 1709.8,483.6 1710.5,483.6 1711.1,483.6 1711.8,483.6 1712.4,481.0 1713.1,481.0 1713.7,481.0 1714.4,481.0 1715.0,481.0 1715.7,481.0 1716.3,481.0 1717.0,478.4 1717.6,478.4 1718.3,478.4 1718.9,478.4 1719.6,478.4 1720.2,478.4 1720.9,475.8 1721.5,475.8 1722.2,475.8 1722.8,475.8 1723.5,475.8 1724.1,473.2 1724.8,473.2 1725.4,473.2 1726.1,473.2 1726.7,473.2 1727.4,470.6 1728.0,470.6 1728.7,470.6 1729.3,468.0 1730.0,468.0 1730.6,468.0 1731.3,465.4 1731.9,465.4 1732.6,465.4 1733.2,462.8 1733.9,462.8 1734.5,462.8 1735.2,460.2 1735.8,460.2 1736.5,460.2 1737.1,457.6 1737.8,457.6 1738.4,457.6 1739.1,457.6 1739.7,455.0 1740.4,455.0 1741.0,455.0 1741.7,455.0 1742.3,455.0 1743.0,455.0 1743.6,452.4 1744.3,452.4 1744.9,452.4 1745.6,452.4 1746.2,452.4 1746.9,452.4 1747.5,449.8 1748.2,449.8 1748.8,449.8 1749.5,449.8 1750.1,449.8 1750.8,449.8 1751.4,447.2 1752.1,447.2 1752.7,447.2 1753.4,447.2 1754.0,447.2 1754.7,447.2 1755.3,444.8 1756.0,444.7 1756.6,444.6 1757.3,444.2 1757.9,442.6 1758.6,442.3 1759.2,441.8 1759.9,441.1 1760.5,440.3 1761.2,439.6 1761.8,438.9 1762.5,438.3 1763.1,437.6 1763.8,436.0 1764.4,434.1 1765.1,432.2 1765.7,426.1 1766.4,425.9 1767.0,425.7 1767.7,425.5 1768.3,425.3 1769.0,425.1 1769.6,424.9 1770.3,408.9 1770.9,408.3 1771.6,407.6 1772.2,407.0 1772.9,406.3 1773.5,405.7 1774.2,405.0 1774.8,404.1 1775.5,403.3 1776.1,402.7 1776.8,402.2 1777.4,400.7 1778.1,400.3 1778.7,400.1 1779.4,398.0 1780.0,397.8 1780.7,395.2 1781.3,395.2 1782.0,395.2 1782.6,392.6 1783.3,392.6 1783.9,390.0 1784.6,390.0 1785.2,390.0 1785.9,387.4 1786.5,387.4 1787.2,387.4 1787.8,387.4 1788.5,384.8 1789.1,384.8 1789.8,384.8 1790.4,384.8 1791.1,384.8 1791.7,384.8 1792.4,384.8 1793.0,384.8 1793.7,382.2 1794.3,382.2 1795.0,382.2 1795.6,382.2 1796.3,382.2 1796.9,382.2 1797.6,379.6 1798.2,379.6 1798.9,379.6 1799.5,377.0 1800.2,377.0 1800.8,377.0 1801.5,377.0 1802.1,374.4 1802.8,374.4 1803.4,374.4 1804.1,374.4 1804.7,374.4 1805.4,374.4 1806.0,371.9 1806.7,372.0 1807.3,371.9 1808.0,371.8 1808.6,371.6 1809.3,371.4 1809.9,371.1 1810.6,370.9 1811.2,370.6 1811.9,370.4 1812.5,370.2 1813.2,370.0 1813.8,369.8 1814.5,369.6 1815.1,369.4 1815.8,369.2 1816.5,357.1" stroke="none" marker-start="url(#mk)" marker-mid="url(#mk)" marker-end="url(#mk)"/>
<polyline points="205.7,1205.9 206.4,1205.9 207.0,1205.9 207.7,1205.9 208.3,1205.9 209.0,1205.9 209.6,1205.9 210.3,1205.9 210.9,1205.9 211.6,1205.9 212.2,1205.9 212.9,1205.9 213.5,1205.9 214.2,1205.9 214.8,1205.9 215.5,1205.9 216.1,1205.9 216.8,1205.9 217.4,1205.9 218.1,1205.9 218.7,1205.9 219.4,1205.9 220.0,1205.9 220.7,1205.9 221.3,1205.9 222.0,1205.9 222.6,1205.9 223.3,1205.9 223.9,1205.9 224.6,1205.9 225.2,1205.9 225.9,1205.9 226.5,1205.9 227.2,1205.9 227.8,1205.9 228.5,1205.9 229.1,1205.9 229.8,1205.9 230.4,1205.9 231.1,1205.9 231.7,1205.9 232.4,1205.9 233.0,1205.9 233.7,1205.9 234.3,1205.9 235.0,1205.9 235.6,1205.9 236.3,1205.9 236.9,1205.9 237.6,1205.9 238.2,1205.9 238.9,1205.9 239.5,1205.9 240.2,1205.9 240.8,1205.9 241.5,1205.9 242.1,1205.9 242.8,1205.9 243.4,1205.9 244.1,1205.9 244.7,1205.9 245.4,1205.9 246.0,1205.9 246.7,1205.9 247.3,1205.9 248.0,1205.9 248.6,1205.9 249.3,1205.9 249.9,1205.9 250.6,1205.9 251.2,1205.9 251.9,1205.9 252.5,1205.9 253.2,1205.9 253.8,1205.9 254.5,1205.9 255.1,1205.9 255.8,1205.9 256.4,1205.9 257.1,1205.9 257.7,1205.9 258.4,1205.9 259.0,1205.9 259.7,1205.9 260.3,1205.9 261.0,1205.9 261.6,1205.9 262.3,1205.9 262.9,1205.9 263.6,1205.9 264.2,1205.9 264.9,1205.9 265.5,1205.9 266.2,1205.9 266.8,1205.9 267.5,1205.9 268.1,1205.9 268.8,1205.9 269.4,1205.9 270.1,1205.9 270.7,1205.9 271.4,1205.9 272.0,1205.9 272.7,1205.9 273.3,1205.9 274.0,1205.9 274.6,1205.9 275.3,1205.9 275.9,1205.9 276.6,1205.9 277.2,1205.9 277.9,1205.9 278.5,1205.9 279.2,1205.9 279.8,1205.9 280.5,1205.9 281.1,1205.9 281.8,1205.9 282.4,1205.9 283.1,1205.9 283.7,1205.9 284.4,1205.9 285.0,1205.9 285.7,1205.9 286.3,1205.9 287.0,1205.9 287.6,1205.9 288.3,1205.9 288.9,1205.9 289.6,1205.9 290.2,1205.9 290.9,1205.9 291.5,1205.9 292.2,1205.9 292.8,1205.9 293.5,1205.9 294.1,1205.9 294.8,1205.9 295.4,1205.9 296.1,1205.9 296.7,1205.9 297.4,1205.9 298.0,1205.9 298.7,1205.9 299.3,1205.9 300.0,1205.9 300.6,1205.9 301.3,1205.9 301.9,1205.9 302.6,1205.9 303.2,1205.9 303.9,1205.9 304.5,1205.9 305.2,1205.9 305.8,1205.9 306.5,1205.9 307.1,1205.9 307.8,1205.9 308.4,1205.9 309.1,1205.9 309.7,1205.9 310.4,1205.9 311.0,1205.9 311.7,1205.9 312.3,1205.9 313.0,1205.9 313.6,1205.9 314.3,1205.9 314.9,1205.9 315.6,1205.9 316.2,1205.9 316.9,1205.9 317.5,1205.9 318.2,1205.9 318.8,1205.9 319.5,1205.9 320.1,1205.9 320.8,1205.9 321.4,1205.9 322.1,1205.9 322.7,1205.9 323.4,1205.9 324.0,1205.9 324.7,1205.9 325.3,1205.9 326.0,1205.9 326.6,1205.9 327.3,1205.9 327.9,1205.9 328.6,1205.9 329.2,1205.9 329.9,1205.9 330.5,1205.9 331.2,1205.9 331.8,1205.9 332.5,1205.9 333.1,1205.9 333.8,1205.9 334.4,1205.9 335.1,1205.9 335.7,1205.9 336.4,1205.9 337.0,1205.9 337.7,1205.9 338.3,1205.9 339.0,1205.9 339.6,1205.9 340.3,1205.9 340.9,1205.9 341.6,1205.9 342.2,1205.9 342.9,1205.9 343.5,1205.9 344.2,1205.9 344.8,1205.9 345.5,1205.9 346.1,1205.9 346.8,1205.9 347.4,1205.9 348.1,1205.9 348.7,1205.9 349.4,1205.9 350.0,1205.9 350.7,1205.9 351.3,1205.9 352.0,1205.9 352.6,1205.9 353.3,1205.9 353.9,1205.9 354.6,1205.9 355.2,1205.9 355.9,1205.9 356.5,1205.9 357.2,1205.9 357.8,1205.9 358.5,1205.9 359.1,1205.9 359.8,1205.9 360.4,1205.9 361.1,1205.9 361.7,1205.9 362.4,1205.9 363.0,1205.9 363.7,1205.9 364.3,1205.9 365.0,1205.9 365.6,1205.9 366.3,1205.9 366.9,1205.9 367.6,1205.9 368.2,1205.9 368.9,1205.9 369.5,1205.9 370.2,1205.9 370.8,1205.9 371.5,1205.9 372.1,1205.9 372.8,1205.9 373.4,1205.9 374.1,1205.9 374.7,1205.9 375.4,1205.9 376.0,1205.9 376.7,1205.9 377.3,1205.9 378.0,1205.9 378.6,1205.9 379.3,1205.9 379.9,1205.9 380.6,1205.9 381.2,1205.9 381.9,1205.9 382.5,1205.9 383.2,1205.9 383.8,1205.9 384.5,1205.9 385.1,1205.9 385.8,1205.9 386.4,1205.9 387.1,1205.9 387.7,1205.9 388.4,1205.9 389.0,1205.9 389.7,1205.9 390.3,1205.9 391.0,1205.9 391.6,1205.9 392.3,1205.9 392.9,1205.9 393.6,1205.9 394.2,1205.9 394.9,1205.9 395.5,1205.9 396.2,1205.9 396.8,1205.9 397.5,1205.9 398.1,1205.9 398.8,1205.9 399.4,1205.9 400.1,1205.9 400.7,1205.9 401.4,1205.9 402.0,1205.9 402.7,1205.9 403.3,1205.9 404.0,1205.9 404.6,1205.9 405.3,1205.9 405.9,1205.9 406.6,1205.9 407.2,1205.9 407.9,1205.9 408.5,1205.9 409.2,1205.9 409.8,1205.9 410.5,1205.9 411.1,1205.9 411.8,1205.9 412.4,1205.9 413.1,1205.9 413.7,1205.9 414.4,1205.9 415.0,1205.8 415.7,1205.8 416.3,1205.8 417.0,1205.8 417.6,1205.8 418.3,1205.8 418.9,1205.8 419.6,1205.8 420.2,1205.8 420.9,1205.8 421.5,1205.8 422.2,1205.8 422.8,1205.8 423.5,1205.8 424.1,1205.8 424.8,1205.8 425.4,1205.8 426.1,1205.8 426.7,1205.8 427.4,1205.8 428.0,1205.8 428.7,1205.8 429.3,1205.8 430.0,1205.8 430.6,1205.8 431.3,1205.8 431.9,1205.8 432.6,1205.8 433.2,1205.8 433.9,1205.8 434.5,1205.8 435.2,1205.8 435.8,1205.8 436.5,1205.8 437.1,1205.8 437.8,1205.8 438.4,1205.8 439.1,1205.7 439.7,1205.7 440.4,1205.7 441.0,1205.7 441.7,1205.7 442.3,1205.7 443.0,1205.7 443.6,1205.7 444.3,1205.7 444.9,1205.7 445.6,1205.7 446.2,1205.7 446.9,1205.7 447.5,1205.7 448.2,1205.7 448.8,1205.7 449.5,1205.7 450.1,1205.7 450.8,1205.7 451.4,1205.7 452.1,1205.7 452.7,1205.7 453.4,1205.7 454.0,1205.6 454.7,1205.6 455.3,1205.6 456.0,1205.6 456.6,1205.6 457.3,1205.6 457.9,1205.6 458.6,1205.6 459.2,1205.6 459.9,1205.6 460.5,1205.6 461.2,1205.6 461.8,1205.6 462.5,1205.6 463.1,1205.6 463.8,1205.6 464.4,1205.6 465.1,1205.6 465.7,1205.6 466.4,1205.5 467.0,1205.5 467.7,1205.5 468.3,1205.5 469.0,1205.5 469.6,1205.5 470.3,1205.5 470.9,1205.5 471.6,1205.5 472.2,1205.5 472.9,1205.5 473.5,1205.5 474.2,1205.5 474.8,1205.5 475.5,1205.5 476.1,1205.5 476.8,1205.4 477.4,1205.4 478.1,1205.4 478.7,1205.4 479.4,1205.4 480.0,1205.4 480.7,1205.4 481.3,1205.4 482.0,1205.4 482.6,1205.4 483.3,1205.4 483.9,1205.4 484.6,1205.4 485.2,1205.4 485.9,1205.4 486.5,1205.3 487.2,1205.3 487.8,1205.3 488.5,1205.3 489.1,1205.3 489.8,1205.3 490.4,1205.3 491.1,1205.3 491.7,1205.3 492.4,1205.3 493.0,1205.3 493.7,1205.3 494.3,1205.3 495.0,1205.3 495.6,1205.3 496.3,1205.2 496.9,1205.2 497.6,1205.2 498.2,1205.2 498.9,1205.2 499.5,1205.2 500.2,1205.2 500.8,1205.2 501.5,1205.2 502.1,1205.2 502.8,1205.2 503.4,1205.2 504.1,1205.2 504.7,1205.1 505.4,1205.1 506.0,1205.1 506.7,1205.1 507.3,1205.1 508.0,1205.1 508.6,1205.1 509.3,1205.1 509.9,1205.1 510.6,1205.1 511.2,1205.1 511.9,1205.1 512.5,1205.1 513.2,1205.0 513.8,1205.0 514.5,1205.0 515.1,1205.0 515.8,1205.0 516.4,1205.0 517.1,1205.0 517.7,1205.0 518.4,1205.0 519.0,1205.0 519.7,1205.0 520.3,1205.0 521.0,1205.0 521.6,1204.9 522.3,1204.9 522.9,1204.9 523.6,1204.9 524.2,1204.9 524.9,1204.9 525.5,1204.9 526.2,1204.9 526.8,1204.9 527.5,1204.9 528.1,1204.9 528.8,1204.9 529.4,1204.8 530.1,1204.8 530.7,1204.8 531.4,1204.8 532.0,1204.8 532.7,1204.8 533.3,1204.8 534.0,1204.8 534.6,1204.8 535.3,1204.8 535.9,1204.8 536.6,1204.8 537.2,1204.7 537.9,1204.7 538.5,1204.7 539.2,1204.7 539.8,1204.7 540.5,1204.7 541.1,1204.7 541.8,1204.7 542.4,1204.7 543.1,1204.7 543.7,1204.7 544.4,1204.7 545.0,1204.6 545.7,1204.6 546.3,1204.6 547.0,1204.6 547.6,1204.6 548.3,1204.6 548.9,1204.6 549.6,1204.6 550.2,1204.6 550.9,1204.6 551.5,1204.6 552.2,1204.6 552.8,1204.5 553.5,1204.5 554.1,1204.5 554.8,1204.5 555.4,1204.5 556.1,1204.5 556.7,1204.5 557.4,1204.5 558.0,1204.5 558.7,1204.5 559.3,1204.4 560.0,1204.4 560.6,1204.4 561.3,1204.4 561.9,1204.4 562.6,1204.4 563.2,1204.4 563.9,1204.4 564.5,1204.4 565.2,1204.4 565.8,1204.3 566.5,1204.3 567.1,1204.3 567.8,1204.3 568.4,1204.3 569.1,1204.3 569.7,1204.3 570.4,1204.3 571.0,1204.2 571.7,1204.2 572.3,1204.2 573.0,1204.2 573.6,1204.2 574.3,1204.2 574.9,1204.2 575.6,1204.2 576.2,1204.1 576.9,1204.1 577.5,1204.1 578.2,1204.1 578.8,1204.1 579.5,1204.1 580.1,1204.1 580.8,1204.0 581.4,1204.0 582.1,1204.0 582.7,1204.0 583.4,1204.0 584.0,1204.0 584.7,1204.0 585.3,1203.9 586.0,1203.9 586.6,1203.9 587.3,1203.9 587.9,1203.9 588.6,1203.9 589.2,1203.9 589.9,1203.8 590.5,1203.8 591.2,1203.8 591.8,1203.8 592.5,1203.8 593.1,1203.8 593.8,1203.7 594.4,1203.7 595.1,1203.7 595.7,1203.7 596.4,1203.7 597.0,1203.7 597.7,1203.7 598.3,1203.6 599.0,1203.6 599.6,1203.6 600.3,1203.6 600.9,1203.6 601.6,1203.6 602.2,1203.5 602.9,1203.5 603.5,1203.5 604.2,1203.5 604.8,1203.5 605.5,1203.5 606.1,1203.5 606.8,1203.4 607.4,1203.4 608.1,1203.4 608.7,1203.4 609.4,1203.4 610.0,1203.4 610.7,1203.3 611.3,1203.3 612.0,1203.3 612.6,1203.3 613.3,1203.3 613.9,1203.3 614.6,1203.3 615.2,1203.2 615.9,1203.2 616.5,1203.2 617.2,1203.2 617.8,1203.2 618.5,1203.2 619.1,1203.1 619.8,1203.1 620.4,1203.1 621.1,1203.1 621.7,1203.1 622.4,1203.0 623.0,1203.0 623.7,1203.0 624.3,1203.0 625.0,1203.0 625.6,1203.0 626.3,1202.9 626.9,1202.9 627.6,1202.9 628.2,1202.9 628.9,1202.9 629.5,1202.8 630.2,1202.8 630.8,1202.8 631.5,1202.8 632.1,1202.8 632.8,1202.7 633.4,1202.7 634.1,1202.7 634.7,1202.7 635.4,1202.7 636.0,1202.6 636.7,1202.6 637.3,1202.6 638.0,1202.6 638.6,1202.6 639.3,1202.5 639.9,1202.5 640.6,1202.5 641.2,1202.5 641.9,1202.5 642.5,1202.4 643.2,1202.4 643.8,1202.4 644.5,1202.4 645.1,1202.4 645.8,1202.3 646.4,1202.3 647.1,1202.3 647.7,1202.3 648.4,1202.2 649.0,1202.2 649.7,1202.2 650.3,1202.2 651.0,1202.2 651.6,1202.1 652.3,1202.1 652.9,1202.1 653.6,1202.1 654.2,1202.1 654.9,1202.0 655.5,1202.0 656.2,1202.0 656.8,1202.0 657.5,1201.9 658.1,1201.9 658.8,1201.9 659.4,1201.9 660.1,1201.9 660.7,1201.8 661.4,1201.8 662.0,1201.8 662.7,1201.8 663.3,1201.8 664.0,1201.7 664.6,1201.7 665.3,1201.7 665.9,1201.7 666.6,1201.7 667.2,1201.6 667.9,1201.6 668.5,1201.6 669.2,1201.6 669.8,1201.5 670.5,1201.5 671.1,1201.5 671.8,1201.5 672.4,1201.5 673.1,1201.4 673.7,1201.4 674.4,1201.4 675.0,1201.4 675.7,1201.4 676.3,1201.3 677.0,1201.3 677.6,1201.3 678.3,1201.3 678.9,1201.3 679.6,1201.2 680.2,1201.2 680.9,1201.2 681.5,1201.2 682.2,1201.2 682.8,1201.1 683.5,1201.1 684.1,1201.1 684.8,1201.1 685.4,1201.1 686.1,1201.0 686.7,1201.0 687.4,1201.0 688.0,1201.0 688.7,1201.0 689.3,1201.0 690.0,1200.9 690.6,1200.9 691.3,1200.9 691.9,1200.9 692.6,1200.9 693.2,1200.8 693.9,1200.8 694.5,1200.8 695.2,1200.8 695.8,1200.8 696.5,1200.8 697.1,1200.7 697.8,1200.7 698.4,1200.7 699.1,1200.7 699.7,1200.7 700.4,1200.7 701.0,1200.6 701.7,1200.6 702.3,1200.6 703.0,1200.6 703.6,1200.6 704.3,1200.6 704.9,1200.6 705.6,1200.5 706.2,1200.5 706.9,1200.5 707.5,1200.5 708.2,1200.5 708.8,1200.5 709.5,1200.4 710.1,1200.4 710.8,1200.4 711.4,1200.4 712.1,1200.4 712.7,1200.4 713.4,1200.4 714.0,1200.3 714.7,1200.3 715.3,1200.3 716.0,1200.3 716.6,1200.3 717.3,1200.3 717.9,1200.3 718.6,1200.2 719.2,1200.2 719.9,1200.2 720.5,1200.2 721.2,1200.2 721.8,1200.2 722.5,1200.2 723.1,1200.1 723.8,1200.1 724.4,1200.1 725.1,1200.1 725.7,1200.1 726.4,1200.1 727.0,1200.1 727.7,1200.1 728.3,1200.0 729.0,1200.0 729.6,1200.0 730.3,1200.0 730.9,1200.0 731.6,1200.0 732.2,1200.0 732.9,1199.9 733.5,1199.9 734.2,1199.9 734.8,1199.9 735.5,1199.9 736.1,1199.9 736.8,1199.9 737.4,1199.9 738.1,1199.8 738.7,1199.8 739.4,1199.8 740.0,1199.8 740.7,1199.8 741.3,1199.8 742.0,1199.8 742.6,1199.8 743.3,1199.7 743.9,1199.7 744.6,1199.7 745.2,1199.7 745.9,1199.7 746.5,1199.7 747.2,1199.7 747.8,1199.7 748.5,1199.6 749.1,1199.6 749.8,1199.6 750.4,1199.6 751.1,1199.6 751.7,1199.6 752.4,1199.6 753.0,1199.6 753.7,1199.5 754.3,1199.5 755.0,1199.5 755.6,1199.5 756.3,1199.5 756.9,1199.5 757.6,1199.5 758.2,1199.5 758.9,1199.4 759.5,1199.4 760.2,1199.4 760.8,1199.4 761.5,1199.4 762.1,1199.4 762.8,1199.4 763.4,1199.4 764.1,1199.3 764.7,1199.3 765.4,1199.3 766.0,1199.3 766.7,1199.3 767.3,1199.3 768.0,1199.3 768.6,1199.3 769.3,1199.2 769.9,1199.2 770.6,1199.2 771.2,1199.2 771.9,1199.2 772.5,1199.2 773.2,1199.2 773.8,1199.2 774.5,1199.1 775.1,1199.1 775.8,1199.1 776.4,1199.1 777.1,1199.1 777.7,1199.1 778.4,1199.1 779.0,1199.1 779.7,1199.0 780.3,1199.0 781.0,1199.0 781.6,1199.0 782.3,1199.0 782.9,1199.0 783.6,1199.0 784.2,1199.0 784.9,1198.9 785.5,1198.9 786.2,1198.9 786.8,1198.9 787.5,1198.9 788.1,1198.9 788.8,1198.9 789.4,1198.9 790.1,1198.8 790.7,1198.8 791.4,1198.8 792.0,1198.8 792.7,1198.8 793.3,1198.8 794.0,1198.8 794.6,1198.8 795.3,1198.7 795.9,1198.7 796.6,1198.7 797.2,1198.7 797.9,1198.7 798.5,1198.7 799.2,1198.7 799.8,1198.7 800.5,1198.6 801.1,1198.6 801.8,1198.6 802.4,1198.6 803.1,1198.6 803.7,1198.6 804.4,1198.6 805.0,1198.5 805.7,1198.5 806.3,1198.5 807.0,1198.5 807.6,1198.5 808.3,1198.5 808.9,1198.5 809.6,1198.5 810.2,1198.5 810.9,1198.4 811.5,1198.4 812.2,1198.4 812.8,1198.4 813.5,1198.4 814.1,1198.4 814.8,1198.4 815.4,1198.4 816.1,1198.4 816.7,1198.3 817.4,1198.3 818.0,1198.3 818.7,1198.3 819.3,1198.3 820.0,1198.3 820.6,1198.3 821.3,1198.3 821.9,1198.3 822.6,1198.3 823.2,1198.2 823.9,1198.2 824.5,1198.2 825.2,1198.2 825.8,1198.2 826.5,1198.2 827.1,1198.2 827.8,1198.2 828.4,1198.2 829.1,1198.2 829.7,1198.2 830.4,1198.1 831.0,1198.1 831.7,1198.1 832.3,1198.1 833.0,1198.1 833.6,1198.1 834.3,1198.1 834.9,1198.1 835.6,1198.1 836.2,1198.1 836.9,1198.1 837.5,1198.0 838.2,1198.0 838.8,1198.0 839.5,1198.0 840.1,1198.0 840.8,1198.0 841.4,1198.0 842.1,1198.0 842.7,1198.0 843.4,1198.0 844.0,1197.9 844.7,1197.9 845.3,1197.9 846.0,1197.9 846.6,1197.9 847.3,1197.9 847.9,1197.9 848.6,1197.9 849.2,1197.9 849.9,1197.9 850.5,1197.8 851.2,1197.8 851.8,1197.8 852.5,1197.8 853.1,1197.8 853.8,1197.8 854.4,1197.8 855.1,1197.8 855.7,1197.8 856.4,1197.7 857.0,1197.7 857.7,1197.7 858.3,1197.7 859.0,1197.7 859.6,1197.7 860.3,1197.7 860.9,1197.7 861.6,1197.7 862.2,1197.6 862.9,1197.6 863.5,1197.6 864.2,1197.6 864.8,1197.6 865.5,1197.6 866.1,1197.6 866.8,1197.6 867.4,1197.5 868.1,1197.5 868.7,1197.5 869.4,1197.5 870.0,1197.5 870.7,1197.5 871.3,1197.5 872.0,1197.4 872.6,1197.4 873.3,1197.4 873.9,1197.4 874.6,1197.4 875.2,1197.4 875.9,1197.4 876.5,1197.3 877.2,1197.3 877.8,1197.3 878.5,1197.3 879.1,1197.3 879.8,1197.3 880.4,1197.2 881.1,1197.2 881.7,1197.2 882.4,1197.2 883.0,1197.2 883.7,1197.2 884.3,1197.1 885.0,1197.1 885.6,1197.1 886.3,1197.1 886.9,1197.1 887.6,1197.0 888.2,1197.0 888.9,1197.0 889.5,1197.0 890.2,1197.0 890.8,1196.9 891.5,1196.9 892.1,1196.9 892.8,1196.9 893.4,1196.9 894.1,1196.8 894.7,1196.8 895.4,1196.8 896.0,1196.8 896.7,1196.7 897.3,1196.7 898.0,1196.7 898.6,1196.7 899.3,1196.6 899.9,1196.6 900.6,1196.6 901.2,1196.6 901.9,1196.5 902.5,1196.5 903.2,1196.5 903.8,1196.4 904.5,1196.4 905.1,1196.4 905.8,1196.3 906.4,1196.3 907.1,1196.2 907.7,1196.2 908.4,1196.1 909.0,1196.1 909.7,1196.0 910.3,1196.0 911.0,1195.9 911.6,1195.9 912.3,1195.8 912.9,1195.8 913.6,1195.7 914.2,1195.6 914.9,1195.6 915.5,1195.5 916.2,1195.4 916.8,1195.4 917.5,1195.3 918.1,1195.2 918.8,1195.2 919.4,1195.1 920.1,1195.0 920.7,1194.9 921.4,1194.8 922.0,1194.8 922.7,1194.7 923.3,1194.6 924.0,1194.5 924.6,1194.4 925.3,1194.3 925.9,1194.3 926.6,1194.2 927.2,1194.1 927.9,1194.0 928.5,1193.9 929.2,1193.8 929.8,1193.7 930.5,1193.6 931.1,1193.5 931.8,1193.4 932.4,1193.3 933.1,1193.2 933.7,1193.1 934.4,1193.0 935.0,1192.9 935.7,1192.8 936.3,1192.7 937.0,1192.6 937.6,1192.5 938.3,1192.4 938.9,1192.3 939.6,1192.2 940.2,1192.1 940.9,1192.0 941.5,1191.9 942.2,1191.8 942.8,1191.6 943.5,1191.5 944.1,1191.4 944.8,1191.3 945.4,1191.2 946.1,1191.1 946.7,1191.0 947.4,1190.9 948.0,1190.7 948.7,1190.6 949.3,1190.5 950.0,1190.4 950.6,1190.3 951.3,1190.2 951.9,1190.0 952.6,1189.9 953.2,1189.8 953.9,1189.6 954.5,1189.5 955.2,1189.4 955.8,1189.2 956.5,1189.1 957.1,1188.9 957.8,1188.8 958.4,1188.6 959.1,1188.5 959.7,1188.3 960.4,1188.2 961.0,1188.0 961.7,1187.8 962.3,1187.7 963.0,1187.5 963.6,1187.3 964.3,1187.1 964.9,1187.0 965.6,1186.8 966.2,1186.6 966.9,1186.4 967.5,1186.2 968.2,1186.0 968.8,1185.8 969.5,1185.6 970.1,1185.4 970.8,1185.2 971.4,1185.0 972.1,1184.8 972.7,1184.6 973.4,1184.4 974.0,1184.2 974.7,1184.0 975.3,1183.8 976.0,1183.6 976.6,1183.4 977.3,1183.2 977.9,1182.9 978.6,1182.7 979.2,1182.5 979.9,1182.3 980.5,1182.1 981.2,1181.8 981.8,1181.6 982.5,1181.4 983.1,1181.2 983.8,1180.9 984.4,1180.7 985.1,1180.5 985.7,1180.2 986.4,1180.0 987.0,1179.8 987.7,1179.5 988.3,1179.3 989.0,1179.0 989.6,1178.8 990.3,1178.6 990.9,1178.3 991.6,1178.1 992.2,1177.8 992.9,1177.6 993.5,1177.3 994.2,1177.1 994.8,1176.9 995.5,1176.6 996.1,1176.4 996.8,1176.1 997.4,1175.9 998.1,1175.6 998.7,1175.4 999.4,1175.1 1000.0,1174.9 1000.7,1174.6 1001.3,1174.4 1002.0,1174.1 1002.6,1173.9 1003.3,1173.6 1003.9,1173.4 1004.6,1173.1 1005.2,1172.8 1005.9,1172.6 1006.5,1172.3 1007.2,1172.0 1007.8,1171.7 1008.5,1171.5 1009.1,1171.2 1009.8,1170.9 1010.4,1170.6 1011.1,1170.3 1011.7,1170.0 1012.4,1169.7 1013.0,1169.5 1013.7,1169.2 1014.3,1168.9 1015.0,1168.6 1015.6,1168.3 1016.3,1168.0 1016.9,1167.7 1017.6,1167.4 1018.2,1167.0 1018.9,1166.7 1019.5,1166.4 1020.2,1166.1 1020.8,1165.8 1021.5,1165.5 1022.1,1165.2 1022.8,1164.8 1023.4,1164.5 1024.1,1164.2 1024.7,1163.9 1025.4,1163.5 1026.0,1163.2 1026.7,1162.9 1027.3,1162.5 1028.0,1162.2 1028.6,1161.9 1029.3,1161.5 1029.9,1161.2 1030.6,1160.9 1031.2,1160.5 1031.9,1160.2 1032.5,1159.8 1033.2,1159.5 1033.8,1159.1 1034.5,1158.8 1035.1,1158.4 1035.8,1158.1 1036.4,1157.7 1037.1,1157.4 1037.7,1157.0 1038.4,1156.7 1039.0,1156.3 1039.7,1156.0 1040.3,1155.6 1041.0,1155.2 1041.6,1154.9 1042.3,1154.5 1042.9,1154.1 1043.6,1153.8 1044.2,1153.4 1044.9,1153.0 1045.5,1152.7 1046.2,1152.3 1046.8,1151.9 1047.5,1151.6 1048.1,1151.2 1048.8,1150.8 1049.4,1150.4 1050.1,1150.1 1050.7,1149.7 1051.4,1149.3 1052.0,1148.9 1052.7,1148.5 1053.3,1148.2 1054.0,1147.8 1054.6,1147.4 1055.3,1147.0 1055.9,1146.6 1056.6,1146.2 1057.2,1145.8 1057.9,1145.4 1058.5,1145.0 1059.2,1144.5 1059.8,1144.1 1060.5,1143.7 1061.1,1143.3 1061.8,1142.9 1062.4,1142.5 1063.1,1142.0 1063.7,1141.6 1064.4,1141.2 1065.0,1140.7 1065.7,1140.3 1066.3,1139.9 1067.0,1139.4 1067.6,1139.0 1068.3,1138.6 1068.9,1138.1 1069.6,1137.7 1070.2,1137.2 1070.9,1136.8 1071.5,1136.3 1072.2,1135.9 1072.8,1135.4 1073.5,1135.0 1074.1,1134.5 1074.8,1134.1 1075.4,1133.6 1076.1,1133.1 1076.7,1132.7 1077.4,1132.2 1078.0,1131.8 1078.7,1131.3 1079.3,1130.8 1080.0,1130.4 1080.6,1129.9 1081.3,1129.4 1081.9,1129.0 1082.6,1128.5 1083.2,1128.0 1083.9,1127.5 1084.5,1127.1 1085.2,1126.6 1085.8,1126.1 1086.5,1125.6 1087.1,1125.2 1087.8,1124.7 1088.4,1124.2 1089.1,1123.7 1089.7,1123.2 1090.4,1122.8 1091.0,1122.3 1091.7,1121.8 1092.3,1121.3 1093.0,1120.8 1093.6,1120.3 1094.3,1119.9 1094.9,1119.4 1095.6,1118.9 1096.2,1118.4 1096.9,1117.9 1097.5,1117.4 1098.2,1116.9 1098.8,1116.5 1099.5,1116.0 1100.1,1115.5 1100.8,1115.0 1101.4,1114.5 1102.1,1114.0 1102.7,1113.5 1103.4,1113.0 1104.0,1112.6 1104.7,1112.1 1105.3,1111.6 1106.0,1111.1 1106.6,1110.6 1107.3,1110.1 1107.9,1109.6 1108.6,1109.0 1109.2,1108.5 1109.9,1108.0 1110.5,1107.5 1111.2,1107.0 1111.8,1106.5 1112.5,1106.0 1113.1,1105.5 1113.8,1105.0 1114.4,1104.4 1115.1,1103.9 1115.7,1103.4 1116.4,1102.9 1117.0,1102.4 1117.7,1101.8 1118.3,1101.3 1119.0,1100.8 1119.6,1100.3 1120.3,1099.7 1120.9,1099.2 1121.6,1098.7 1122.2,1098.1 1122.9,1097.6 1123.5,1097.1 1124.2,1096.5 1124.8,1096.0 1125.5,1095.5 1126.1,1094.9 1126.8,1094.4 1127.4,1093.9 1128.1,1093.3 1128.7,1092.8 1129.4,1092.3 1130.0,1091.7 1130.7,1091.2 1131.3,1090.6 1132.0,1090.1 1132.6,1089.6 1133.3,1089.0 1133.9,1088.5 1134.6,1087.9 1135.2,1087.4 1135.9,1086.8 1136.5,1086.3 1137.2,1085.8 1137.8,1085.2 1138.5,1084.7 1139.1,1084.1 1139.8,1083.6 1140.4,1083.0 1141.1,1082.5 1141.7,1081.9 1142.4,1081.4 1143.0,1080.8 1143.7,1080.3 1144.3,1079.8 1145.0,1079.2 1145.6,1078.7 1146.3,1078.1 1146.9,1077.6 1147.6,1077.0 1148.2,1076.5 1148.9,1075.9 1149.5,1075.4 1150.2,1074.8 1150.8,1074.3 1151.5,1073.8 1152.1,1073.2 1152.8,1072.7 1153.4,1072.1 1154.1,1071.6 1154.7,1071.0 1155.4,1070.5 1156.0,1069.9 1156.7,1069.4 1157.3,1068.9 1158.0,1068.3 1158.6,1067.8 1159.3,1067.2 1159.9,1066.7 1160.6,1066.2 1161.2,1065.6 1161.9,1065.1 1162.5,1064.5 1163.2,1064.0 1163.8,1063.5 1164.5,1062.9 1165.1,1062.4 1165.8,1061.8 1166.4,1061.3 1167.1,1060.8 1167.7,1060.2 1168.4,1059.7 1169.0,1059.1 1169.7,1058.6 1170.3,1058.0 1171.0,1057.5 1171.6,1057.0 1172.3,1056.4 1172.9,1055.9 1173.6,1055.3 1174.2,1054.8 1174.9,1054.3 1175.5,1053.7 1176.2,1053.2 1176.8,1052.6 1177.5,1052.1 1178.1,1051.5 1178.8,1051.0 1179.4,1050.5 1180.1,1049.9 1180.7,1049.4 1181.4,1048.8 1182.0,1048.3 1182.7,1047.7 1183.3,1047.2 1184.0,1046.6 1184.6,1046.1 1185.3,1045.6 1185.9,1045.0 1186.6,1044.5 1187.2,1043.9 1187.9,1043.4 1188.5,1042.8 1189.2,1042.3 1189.8,1041.7 1190.5,1041.2 1191.1,1040.6 1191.8,1040.1 1192.4,1039.5 1193.1,1039.0 1193.7,1038.5 1194.4,1037.9 1195.0,1037.4 1195.7,1036.8 1196.3,1036.3 1197.0,1035.7 1197.6,1035.2 1198.3,1034.6 1198.9,1034.1 1199.6,1033.5 1200.2,1033.0 1200.9,1032.4 1201.5,1031.9 1202.2,1031.3 1202.8,1030.8 1203.5,1030.2 1204.1,1029.7 1204.8,1029.1 1205.4,1028.5 1206.1,1028.0 1206.7,1027.4 1207.4,1026.9 1208.0,1026.3 1208.7,1025.8 1209.3,1025.2 1210.0,1024.7 1210.6,1024.1 1211.3,1023.6 1211.9,1023.0 1212.6,1022.4 1213.2,1021.9 1213.9,1021.3 1214.5,1020.8 1215.2,1020.2 1215.8,1019.7 1216.5,1019.1 1217.1,1018.5 1217.8,1018.0 1218.4,1017.4 1219.1,1016.9 1219.7,1016.3 1220.4,1015.7 1221.0,1015.2 1221.7,1014.6 1222.3,1014.1 1223.0,1013.5 1223.6,1012.9 1224.3,1012.4 1224.9,1011.8 1225.6,1011.2 1226.2,1010.7 1226.9,1010.1 1227.5,1009.5 1228.2,1009.0 1228.8,1008.4 1229.5,1007.8 1230.1,1007.3 1230.8,1006.7 1231.4,1006.1 1232.1,1005.6 1232.7,1005.0 1233.4,1004.4 1234.0,1003.9 1234.7,1003.3 1235.3,1002.7 1236.0,1002.2 1236.6,1001.6 1237.3,1001.0 1237.9,1000.4 1238.6,999.9 1239.2,999.3 1239.9,998.7 1240.5,998.1 1241.2,997.6 1241.8,997.0 1242.5,996.4 1243.1,995.8 1243.8,995.3 1244.4,994.7 1245.1,994.1 1245.7,993.5 1246.4,992.9 1247.0,992.4 1247.7,991.8 1248.3,991.2 1249.0,990.6 1249.6,990.0 1250.3,989.4 1250.9,988.9 1251.6,988.3 1252.2,987.7 1252.9,987.1 1253.5,986.5 1254.2,986.0 1254.8,985.4 1255.5,984.8 1256.1,984.2 1256.8,983.6 1257.4,983.0 1258.1,982.4 1258.7,981.9 1259.4,981.3 1260.0,980.7 1260.7,980.1 1261.3,979.5 1262.0,978.9 1262.6,978.3 1263.3,977.7 1263.9,977.2 1264.6,976.6 1265.2,976.0 1265.9,975.4 1266.5,974.8 1267.2,974.2 1267.8,973.6 1268.5,973.0 1269.1,972.4 1269.8,971.9 1270.4,971.3 1271.1,970.7 1271.7,970.1 1272.4,969.5 1273.0,968.9 1273.7,968.3 1274.3,967.7 1275.0,967.1 1275.6,966.5 1276.3,965.9 1276.9,965.4 1277.6,964.8 1278.2,964.2 1278.9,963.6 1279.5,963.0 1280.2,962.4 1280.8,961.8 1281.5,961.2 1282.1,960.6 1282.8,960.0 1283.4,959.4 1284.1,958.9 1284.7,958.3 1285.4,957.7 1286.0,957.1 1286.7,956.5 1287.3,955.9 1288.0,955.3 1288.6,954.7 1289.3,954.1 1289.9,953.5 1290.6,952.9 1291.2,952.3 1291.9,951.8 1292.5,951.2 1293.2,950.6 1293.8,950.0 1294.5,949.4 1295.1,948.8 1295.8,948.2 1296.4,947.6 1297.1,947.0 1297.7,946.4 1298.4,945.8 1299.0,945.3 1299.7,944.7 1300.3,944.1 1301.0,943.5 1301.6,942.9 1302.3,942.3 1302.9,941.7 1303.6,941.1 1304.2,940.5 1304.9,939.9 1305.5,939.3 1306.2,938.8 1306.8,938.2 1307.5,937.6 1308.1,937.0 1308.8,936.4 1309.4,935.8 1310.1,935.2 1310.7,934.6 1311.4,934.0 1312.0,933.4 1312.7,932.8 1313.3,932.2 1314.0,931.6 1314.6,931.0 1315.3,930.4 1315.9,929.8 1316.6,929.2 1317.2,928.7 1317.9,928.1 1318.5,927.5 1319.2,926.9 1319.8,926.3 1320.5,925.7 1321.1,925.1 1321.8,924.5 1322.4,923.9 1323.1,923.3 1323.7,922.7 1324.4,922.1 1325.0,921.5 1325.7,920.9 1326.3,920.3 1327.0,919.7 1327.6,919.1 1328.3,918.5 1328.9,917.9 1329.6,917.3 1330.2,916.7 1330.9,916.1 1331.5,915.5 1332.2,914.9 1332.8,914.3 1333.5,913.7 1334.1,913.1 1334.8,912.5 1335.4,911.9 1336.1,911.4 1336.7,910.8 1337.4,910.2 1338.0,909.6 1338.7,909.0 1339.3,908.4 1340.0,907.8 1340.6,907.2 1341.3,906.6 1341.9,906.0 1342.6,905.4 1343.2,904.8 1343.9,904.2 1344.5,903.6 1345.2,903.0 1345.8,902.4 1346.5,901.8 1347.1,901.2 1347.8,900.6 1348.4,900.1 1349.1,899.5 1349.7,898.9 1350.4,898.3 1351.0,897.7 1351.7,897.1 1352.3,896.5 1353.0,895.9 1353.6,895.3 1354.3,894.7 1354.9,894.1 1355.6,893.6 1356.2,893.0 1356.9,892.4 1357.5,891.8 1358.2,891.2 1358.8,890.6 1359.5,890.0 1360.1,889.4 1360.8,888.8 1361.4,888.3 1362.1,887.7 1362.7,887.1 1363.4,886.5 1364.0,885.9 1364.7,885.3 1365.3,884.7 1366.0,884.2 1366.6,883.6 1367.3,883.0 1367.9,882.4 1368.6,881.8 1369.2,881.2 1369.9,880.6 1370.5,880.1 1371.2,879.5 1371.8,878.9 1372.5,878.3 1373.1,877.7 1373.8,877.1 1374.4,876.6 1375.1,876.0 1375.7,875.4 1376.4,874.8 1377.0,874.2 1377.7,873.6 1378.3,873.1 1379.0,872.5 1379.6,871.9 1380.3,871.3 1380.9,870.7 1381.6,870.2 1382.2,869.6 1382.9,869.0 1383.5,868.4 1384.2,867.8 1384.8,867.3 1385.5,866.7 1386.1,866.1 1386.8,865.5 1387.4,864.9 1388.1,864.3 1388.7,863.8 1389.4,863.2 1390.0,862.6 1390.7,862.0 1391.3,861.5 1392.0,860.9 1392.6,860.3 1393.3,859.7 1393.9,859.1 1394.6,858.6 1395.2,858.0 1395.9,857.4 1396.5,856.8 1397.2,856.2 1397.8,855.7 1398.5,855.1 1399.1,854.5 1399.8,853.9 1400.4,853.4 1401.1,852.8 1401.7,852.2 1402.4,851.6 1403.0,851.1 1403.7,850.5 1404.3,849.9 1405.0,849.3 1405.6,848.8 1406.3,848.2 1406.9,847.6 1407.6,847.0 1408.2,846.5 1408.9,845.9 1409.5,845.3 1410.2,844.7 1410.8,844.2 1411.5,843.6 1412.1,843.0 1412.8,842.4 1413.4,841.9 1414.1,841.3 1414.7,840.7 1415.4,840.1 1416.0,839.6 1416.7,839.0 1417.3,838.4 1418.0,837.8 1418.6,837.3 1419.3,836.7 1419.9,836.1 1420.6,835.5 1421.2,835.0 1421.9,834.4 1422.5,833.8 1423.2,833.2 1423.8,832.6 1424.5,831.5 1425.1,830.1 1425.8,828.8 1426.4,827.5 1427.1,826.2 1427.7,825.6 1428.4,825.0 1429.0,824.4 1429.7,823.8 1430.3,823.2 1431.0,822.6 1431.6,822.0 1432.3,821.4 1432.9,820.8 1433.6,820.2 1434.2,819.6 1434.9,819.0 1435.5,818.4 1436.2,817.8 1436.8,817.2 1437.5,816.6 1438.1,816.0 1438.8,815.4 1439.4,814.8 1440.1,814.2 1440.7,813.6 1441.4,813.0 1442.0,812.3 1442.7,811.7 1443.3,811.1 1444.0,810.5 1444.6,809.9 1445.3,809.3 1445.9,808.7 1446.6,808.1 1447.2,807.5 1447.9,806.9 1448.5,806.3 1449.2,805.7 1449.8,805.1 1450.5,804.5 1451.1,803.9 1451.8,803.3 1452.4,802.7 1453.1,802.1 1453.7,801.5 1454.4,800.9 1455.0,800.3 1455.7,799.7 1456.3,799.1 1457.0,798.5 1457.6,797.9 1458.3,797.3 1458.9,796.7 1459.6,796.1 1460.2,795.5 1460.9,794.9 1461.5,794.3 1462.2,793.7 1462.8,793.0 1463.5,792.4 1464.1,791.8 1464.8,791.2 1465.4,790.6 1466.1,790.0 1466.7,789.4 1467.4,788.8 1468.0,788.2 1468.7,787.6 1469.3,787.0 1470.0,786.4 1470.6,785.8 1471.3,785.2 1471.9,784.6 1472.6,784.0 1473.2,783.4 1473.9,782.8 1474.5,782.2 1475.2,781.6 1475.8,781.0 1476.5,780.4 1477.1,779.8 1477.8,779.2 1478.4,778.6 1479.1,778.0 1479.7,777.4 1480.4,776.8 1481.0,776.2 1481.7,775.6 1482.3,775.0 1483.0,774.4 1483.6,773.7 1484.3,773.1 1484.9,772.5 1485.6,771.9 1486.2,771.3 1486.9,770.7 1487.5,770.1 1488.2,769.5 1488.8,768.9 1489.5,768.3 1490.1,767.7 1490.8,767.1 1491.4,766.5 1492.1,765.9 1492.7,765.3 1493.4,764.7 1494.0,764.1 1494.7,763.5 1495.3,762.9 1496.0,762.4 1496.6,761.8 1497.3,761.2 1497.9,760.5 1498.6,759.8 1499.2,759.2 1499.9,758.5 1500.5,757.8 1501.2,757.1 1501.8,756.4 1502.5,755.7 1503.1,755.0 1503.8,754.3 1504.4,753.7 1505.1,753.0 1505.7,752.3 1506.4,751.5 1507.0,750.8 1507.7,750.0 1508.3,749.2 1509.0,748.4 1509.6,747.6 1510.3,746.8 1510.9,746.0 1511.6,745.2 1512.2,744.5 1512.9,743.7 1513.5,742.9 1514.2,742.1 1514.8,741.3 1515.5,740.5 1516.1,739.7 1516.8,739.0 1517.4,738.2 1518.1,737.5 1518.7,736.7 1519.4,736.0 1520.0,735.2 1520.7,734.5 1521.3,733.7 1522.0,733.0 1522.6,732.6 1523.3,732.1 1523.9,731.6 1524.6,731.1 1525.2,730.6 1525.9,730.2 1526.5,729.7 1527.2,729.2 1527.8,728.7 1528.5,728.2 1529.1,727.8 1529.8,727.3 1530.4,726.4 1531.1,725.5 1531.7,724.5 1532.4,723.6 1533.0,722.7 1533.7,721.9 1534.3,721.4 1535.0,720.9 1535.6,720.4 1536.3,719.9 1536.9,719.4 1537.6,718.9 1538.2,718.4 1538.9,717.9 1539.5,717.4 1540.2,716.9 1540.8,716.4 1541.5,715.9 1542.1,715.4 1542.8,714.9 1543.4,714.4 1544.1,713.9 1544.7,713.4 1545.4,713.0 1546.0,712.6 1546.7,712.1 1547.3,711.7 1548.0,711.3 1548.6,710.9 1549.3,710.5 1549.9,710.1 1550.6,709.7 1551.2,709.2 1551.9,708.4 1552.5,707.6 1553.2,706.8 1553.8,706.0 1554.5,704.9 1555.1,703.7 1555.8,702.5 1556.4,701.2 1557.1,700.5 1557.7,699.9 1558.4,699.2 1559.0,698.6 1559.7,697.9 1560.3,697.3 1561.0,696.6 1561.6,696.0 1562.3,695.3 1562.9,694.7 1563.6,694.0 1564.2,693.4 1564.9,692.7 1565.5,692.2 1566.2,691.8 1566.8,691.4 1567.5,691.0 1568.1,690.6 1568.8,690.2 1569.4,689.8 1570.1,689.4 1570.7,689.0 1571.4,688.6 1572.0,688.2 1572.7,687.8 1573.3,687.3 1574.0,686.9 1574.6,686.5 1575.3,686.1 1575.9,685.7 1576.6,685.3 1577.2,684.9 1577.9,684.5 1578.5,684.1 1579.2,683.6 1579.8,683.0 1580.5,682.5 1581.1,681.9 1581.8,681.4 1582.4,680.8 1583.1,680.2 1583.7,679.7 1584.4,679.1 1585.0,678.6 1585.7,678.0 1586.3,677.5 1587.0,676.9 1587.6,676.3 1588.3,675.1 1588.9,673.9 1589.6,672.6 1590.2,671.4 1590.9,670.1 1591.5,669.0 1592.2,668.8 1592.8,668.5 1593.5,668.3 1594.1,668.0 1594.8,667.7 1595.4,667.5 1596.1,661.6 1596.7,661.0 1597.4,660.5 1598.0,659.9 1598.7,659.3 1599.3,658.7 1600.0,658.1 1600.6,657.6 1601.3,657.0 1601.9,656.4 1602.6,655.8 1603.2,655.3 1603.9,654.7 1604.5,654.1 1605.2,653.6 1605.8,653.0 1606.5,652.5 1607.1,652.1 1607.8,651.6 1608.4,651.2 1609.1,650.7 1609.7,650.3 1610.4,649.8 1611.0,649.4 1611.7,648.9 1612.3,648.5 1613.0,648.1 1613.6,647.6 1614.3,647.0 1614.9,646.3 1615.6,645.6 1616.2,644.9 1616.9,644.2 1617.5,643.4 1618.2,642.7 1618.8,642.0 1619.5,641.3 1620.1,640.6 1620.8,639.9 1621.4,639.2 1622.1,638.5 1622.7,637.8 1623.4,637.1 1624.0,636.4 1624.7,635.7 1625.3,635.0 1626.0,634.3 1626.6,633.6 1627.3,632.9 1627.9,632.2 1628.6,631.5 1629.2,630.8 1629.9,629.5 1630.5,627.8 1631.2,626.0 1631.8,624.3 1632.5,622.6 1633.1,620.9 1633.8,619.2 1634.4,617.5 1635.1,615.8 1635.7,615.2 1636.4,614.8 1637.0,614.5 1637.7,614.1 1638.3,613.7 1639.0,613.3 1639.6,613.0 1640.3,612.6 1640.9,612.2 1641.6,611.9 1642.2,611.5 1642.9,611.1 1643.5,610.8 1644.2,610.4 1644.8,610.0 1645.5,598.6 1646.1,598.1 1646.8,597.7 1647.4,597.2 1648.1,596.8 1648.7,596.3 1649.4,595.8 1650.0,595.4 1650.7,594.9 1651.3,594.5 1652.0,594.0 1652.6,593.6 1653.3,593.1 1653.9,592.6 1654.6,592.2 1655.2,591.7 1655.9,591.3 1656.5,590.8 1657.2,590.4 1657.8,589.9 1658.5,589.4 1659.1,589.0 1659.8,588.5 1660.4,588.1 1661.1,587.6 1661.7,587.2 1662.4,586.7 1663.0,586.2 1663.7,585.8 1664.3,585.4 1665.0,584.9 1665.6,584.5 1666.3,584.0 1666.9,583.6 1667.6,583.1 1668.2,582.7 1668.9,582.3 1669.5,581.8 1670.2,581.4 1670.8,580.9 1671.5,580.5 1672.1,580.0 1672.8,579.6 1673.4,579.2 1674.1,578.7 1674.7,578.3 1675.4,577.8 1676.0,577.4 1676.7,577.0 1677.3,576.6 1678.0,576.2 1678.6,575.8 1679.3,575.4 1679.9,575.0 1680.6,574.6 1681.2,574.2 1681.9,573.8 1682.5,573.4 1683.2,573.0 1683.8,572.5 1684.5,572.0 1685.1,571.6 1685.8,571.1 1686.4,570.6 1687.1,570.1 1687.7,569.7 1688.4,569.2 1689.0,568.7 1689.7,568.2 1690.3,567.8 1691.0,567.3 1691.6,566.8 1692.3,566.3 1692.9,565.9 1693.6,565.4 1694.2,564.9 1694.9,564.5 1695.5,564.0 1696.2,563.5 1696.8,563.0 1697.5,562.4 1698.1,561.5 1698.8,560.5 1699.4,559.6 1700.1,558.6 1700.7,557.7 1701.4,556.7 1702.0,555.8 1702.7,554.8 1703.3,553.6 1704.0,552.1 1704.6,550.6 1705.3,549.1 1705.9,547.6 1706.6,546.6 1707.2,545.6 1707.9,544.7 1708.5,543.7 1709.2,531.4 1709.8,531.0 1710.5,530.6 1711.1,530.2 1711.8,529.8 1712.4,529.3 1713.1,528.9 1713.7,528.5 1714.4,528.1 1715.0,527.7 1715.7,527.3 1716.3,527.0 1717.0,526.6 1717.6,526.3 1718.3,525.9 1718.9,525.5 1719.6,525.2 1720.2,524.8 1720.9,524.4 1721.5,524.1 1722.2,523.7 1722.8,523.3 1723.5,523.0 1724.1,522.6 1724.8,522.2 1725.4,521.9 1726.1,521.5 1726.7,521.1 1727.4,520.7 1728.0,520.4 1728.7,520.0 1729.3,519.6 1730.0,519.3 1730.6,518.9 1731.3,518.5 1731.9,518.1 1732.6,517.8 1733.2,517.4 1733.9,517.0 1734.5,516.7 1735.2,516.3 1735.8,515.8 1736.5,515.3 1737.1,514.8 1737.8,514.3 1738.4,513.8 1739.1,513.3 1739.7,512.8 1740.4,512.3 1741.0,511.8 1741.7,511.3 1742.3,510.8 1743.0,510.3 1743.6,509.9 1744.3,509.4 1744.9,508.9 1745.6,508.4 1746.2,507.9 1746.9,507.4 1747.5,506.9 1748.2,506.4 1748.8,505.9 1749.5,505.4 1750.1,504.9 1750.8,504.4 1751.4,503.9 1752.1,503.5 1752.7,503.0 1753.4,502.4 1754.0,501.9 1754.7,501.4 1755.3,500.9 1756.0,500.4 1756.6,499.9 1757.3,499.4 1757.9,498.8 1758.6,498.3 1759.2,497.8 1759.9,497.3 1760.5,496.8 1761.2,496.3 1761.8,495.8 1762.5,495.2 1763.1,494.9 1763.8,494.6 1764.4,494.3 1765.1,494.0 1765.7,493.8 1766.4,493.5 1767.0,493.2 1767.7,493.0 1768.3,492.7 1769.0,492.4 1769.6,492.1 1770.3,491.9 1770.9,491.6 1771.6,491.3 1772.2,491.1 1772.9,490.8 1773.5,490.5 1774.2,490.2 1774.8,481.0 1775.5,480.1 1776.1,479.2 1776.8,478.3 1777.4,477.4 1778.1,476.5 1778.7,475.7 1779.4,474.8 1780.0,473.9 1780.7,473.0 1781.3,472.0 1782.0,470.8 1782.6,469.6 1783.3,468.4 1783.9,467.3 1784.6,466.1 1785.2,464.9 1785.9,463.7 1786.5,462.8 1787.2,462.3 1787.8,461.8 1788.5,461.3 1789.1,460.8 1789.8,460.3 1790.4,459.8 1791.1,459.4 1791.7,458.9 1792.4,458.4 1793.0,457.9 1793.7,457.4 1794.3,456.9 1795.0,456.4 1795.6,455.9 1796.3,455.4 1796.9,454.9 1797.6,454.4 1798.2,453.9 1798.9,453.4 1799.5,452.9 1800.2,452.5 1800.8,452.1 1801.5,451.7 1802.1,451.3 1802.8,450.8 1803.4,450.4 1804.1,450.0 1804.7,449.6 1805.4,449.2 1806.0,448.8 1806.7,448.3 1807.3,447.9 1808.0,447.5 1808.6,447.1 1809.3,446.7 1809.9,446.2 1810.6,445.8 1811.2,445.4 1811.9,445.0 1812.5,444.6 1813.2,444.3 1813.8,444.1 1814.5,443.9 1815.1,443.6 1815.8,443.4 1816.5,443.2" stroke="none" marker-start="url(#mr)" marker-mid="url(#mr)" marker-end="url(#mr)"/>
<polyline points="205.7,1205.6 206.4,1204.8 207.0,1205.5 207.7,1204.7 208.3,1205.5 209.0,1204.7 209.6,1205.5 210.3,1204.6 210.9,1205.4 211.6,1204.6 212.2,1205.4 212.9,1204.6 213.5,1205.3 214.2,1204.5 214.8,1205.3 215.5,1204.5 216.1,1205.3 216.8,1204.4 217.4,1205.2 218.1,1204.4 218.7,1205.2 219.4,1204.4 220.0,1205.2 220.7,1204.3 221.3,1205.1 222.0,1204.3 222.6,1205.1 223.3,1204.3 223.9,1205.0 224.6,1204.2 225.2,1205.0 225.9,1204.2 226.5,1205.0 227.2,1204.1 227.8,1204.9 228.5,1204.1 229.1,1204.9 229.8,1204.1 230.4,1204.9 231.1,1204.0 231.7,1204.8 232.4,1204.0 233.0,1204.8 233.7,1204.0 234.3,1204.8 235.0,1203.9 235.6,1204.7 236.3,1203.9 236.9,1204.7 237.6,1203.9 238.2,1204.7 238.9,1203.9 239.5,1204.6 240.2,1203.8 240.8,1204.6 241.5,1203.8 242.1,1204.6 242.8,1203.8 243.4,1204.6 244.1,1203.7 244.7,1204.5 245.4,1203.7 246.0,1204.5 246.7,1203.7 247.3,1204.5 248.0,1203.7 248.6,1204.5 249.3,1203.7 249.9,1204.5 250.6,1203.6 251.2,1204.4 251.9,1203.6 252.5,1204.4 253.2,1203.6 253.8,1204.4 254.5,1203.6 255.1,1204.4 255.8,1203.6 256.4,1204.4 257.1,1203.6 257.7,1204.4 258.4,1203.6 259.0,1204.4 259.7,1203.6 260.3,1204.4 261.0,1203.6 261.6,1204.4 262.3,1203.6 262.9,1204.4 263.6,1203.5 264.2,1204.3 264.9,1203.5 265.5,1204.3 266.2,1203.5 266.8,1204.3 267.5,1203.5 268.1,1204.3 268.8,1203.5 269.4,1204.3 270.1,1203.5 270.7,1204.3 271.4,1203.5 272.0,1204.3 272.7,1203.5 273.3,1204.3 274.0,1203.5 274.6,1204.3 275.3,1203.5 275.9,1204.3 276.6,1203.5 277.2,1204.3 277.9,1203.5 278.5,1204.3 279.2,1203.5 279.8,1204.3 280.5,1203.5 281.1,1204.3 281.8,1203.5 282.4,1204.3 283.1,1203.5 283.7,1204.3 284.4,1203.5 285.0,1204.3 285.7,1203.5 286.3,1204.3 287.0,1203.5 287.6,1204.3 288.3,1203.5 288.9,1204.3 289.6,1203.5 290.2,1204.3 290.9,1203.5 291.5,1204.3 292.2,1203.5 292.8,1204.3 293.5,1203.5 294.1,1204.3 294.8,1203.5 295.4,1204.3 296.1,1203.5 296.7,1204.3 297.4,1203.5 298.0,1204.3 298.7,1203.4 299.3,1204.2 300.0,1203.4 300.6,1204.2 301.3,1203.4 301.9,1204.2 302.6,1203.4 303.2,1204.2 303.9,1203.4 304.5,1204.2 305.2,1203.4 305.8,1204.2 306.5,1203.4 307.1,1204.2 307.8,1203.4 308.4,1204.2 309.1,1203.4 309.7,1204.2 310.4,1203.4 311.0,1204.2 311.7,1203.4 312.3,1204.2 313.0,1203.4 313.6,1204.2 314.3,1203.4 314.9,1204.2 315.6,1203.4 316.2,1204.2 316.9,1203.4 317.5,1204.2 318.2,1203.4 318.8,1204.2 319.5,1203.4 320.1,1204.2 320.8,1203.4 321.4,1204.2 322.1,1203.4 322.7,1204.2 323.4,1203.4 324.0,1204.2 324.7,1203.4 325.3,1204.2 326.0,1203.4 326.6,1204.2 327.3,1203.4 327.9,1204.2 328.6,1203.4 329.2,1204.2 329.9,1203.4 330.5,1204.2 331.2,1203.4 331.8,1204.2 332.5,1203.4 333.1,1204.2 333.8,1203.4 334.4,1204.2 335.1,1203.4 335.7,1204.2 336.4,1203.4 337.0,1204.2 337.7,1203.4 338.3,1204.2 339.0,1203.4 339.6,1204.2 340.3,1203.4 340.9,1204.2 341.6,1203.4 342.2,1204.2 342.9,1203.4 343.5,1204.2 344.2,1203.4 344.8,1204.2 345.5,1203.4 346.1,1204.2 346.8,1203.4 347.4,1204.2 348.1,1203.4 348.7,1204.2 349.4,1203.4 350.0,1204.2 350.7,1203.4 351.3,1204.2 352.0,1203.4 352.6,1204.2 353.3,1203.4 353.9,1204.2 354.6,1203.4 355.2,1204.2 355.9,1203.4 356.5,1204.2 357.2,1203.4 357.8,1204.2 358.5,1203.4 359.1,1204.2 359.8,1203.4 360.4,1204.2 361.1,1203.4 361.7,1204.2 362.4,1203.4 363.0,1204.2 363.7,1203.4 364.3,1204.2 365.0,1203.4 365.6,1204.2 366.3,1203.4 366.9,1204.2 367.6,1203.4 368.2,1204.2 368.9,1203.3 369.5,1204.1 370.2,1203.3 370.8,1204.1 371.5,1203.3 372.1,1204.1 372.8,1203.3 373.4,1204.1 374.1,1203.3 374.7,1204.1 375.4,1203.3 376.0,1204.1 376.7,1203.3 377.3,1204.1 378.0,1203.3 378.6,1204.1 379.3,1203.3 379.9,1204.1 380.6,1203.3 381.2,1204.1 381.9,1203.3 382.5,1204.1 383.2,1203.3 383.8,1204.1 384.5,1203.3 385.1,1204.1 385.8,1203.3 386.4,1204.1 387.1,1203.3 387.7,1204.1 388.4,1203.3 389.0,1204.1 389.7,1203.3 390.3,1204.1 391.0,1203.3 391.6,1204.1 392.3,1203.3 392.9,1204.1 393.6,1203.3 394.2,1204.1 394.9,1203.3 395.5,1204.1 396.2,1203.3 396.8,1204.1 397.5,1203.3 398.1,1204.1 398.8,1203.3 399.4,1204.1 400.1,1203.3 400.7,1204.1 401.4,1203.3 402.0,1204.1 402.7,1203.3 403.3,1204.1 404.0,1203.3 404.6,1204.1 405.3,1203.3 405.9,1204.1 406.6,1203.3 407.2,1204.1 407.9,1203.3 408.5,1204.1 409.2,1203.3 409.8,1204.1 410.5,1203.3 411.1,1204.1 411.8,1203.3 412.4,1204.1 413.1,1203.3 413.7,1204.1 414.4,1203.3 415.0,1204.1 415.7,1203.3 416.3,1204.1 417.0,1203.3 417.6,1204.1 418.3,1203.3 418.9,1204.1 419.6,1203.3 420.2,1204.1 420.9,1203.3 421.5,1204.1 422.2,1203.3 422.8,1204.1 423.5,1203.3 424.1,1204.1 424.8,1203.3 425.4,1204.1 426.1,1203.3 426.7,1204.1 427.4,1203.3 428.0,1204.1 428.7,1203.3 429.3,1204.1 430.0,1203.3 430.6,1204.1 431.3,1203.3 431.9,1204.1 432.6,1203.3 433.2,1204.1 433.9,1203.3 434.5,1204.1 435.2,1203.3 435.8,1204.1 436.5,1203.3 437.1,1204.1 437.8,1203.3 438.4,1204.1 439.1,1203.3 439.7,1204.1 440.4,1203.3 441.0,1204.1 441.7,1203.3 442.3,1204.1 443.0,1203.3 443.6,1204.1 444.3,1203.3 444.9,1204.1 445.6,1203.3 446.2,1204.1 446.9,1203.3 447.5,1204.1 448.2,1203.3 448.8,1204.1 449.5,1203.3 450.1,1204.1 450.8,1203.3 451.4,1204.1 452.1,1203.3 452.7,1204.1 453.4,1203.3 454.0,1204.1 454.7,1203.3 455.3,1204.1 456.0,1203.3 456.6,1204.1 457.3,1203.2 457.9,1204.0 458.6,1203.2 459.2,1204.0 459.9,1203.2 460.5,1204.0 461.2,1203.2 461.8,1204.0 462.5,1203.2 463.1,1204.0 463.8,1203.2 464.4,1204.0 465.1,1203.2 465.7,1204.0 466.4,1203.2 467.0,1204.0 467.7,1203.2 468.3,1204.0 469.0,1203.2 469.6,1204.0 470.3,1203.2 470.9,1204.0 471.6,1203.2 472.2,1204.0 472.9,1203.2 473.5,1204.0 474.2,1203.2 474.8,1204.0 475.5,1203.2 476.1,1204.0 476.8,1203.2 477.4,1204.0 478.1,1203.2 478.7,1204.0 479.4,1203.2 480.0,1204.0 480.7,1203.2 481.3,1204.0 482.0,1203.2 482.6,1204.0 483.3,1203.2 483.9,1204.0 484.6,1203.2 485.2,1204.0 485.9,1203.2 486.5,1204.0 487.2,1203.2 487.8,1204.0 488.5,1203.2 489.1,1204.0 489.8,1203.2 490.4,1204.0 491.1,1203.2 491.7,1204.0 492.4,1203.2 493.0,1204.0 493.7,1203.2 494.3,1204.0 495.0,1203.2 495.6,1204.0 496.3,1203.2 496.9,1204.0 497.6,1203.2 498.2,1204.0 498.9,1203.2 499.5,1204.0 500.2,1203.2 500.8,1204.0 501.5,1203.2 502.1,1204.0 502.8,1203.2 503.4,1204.0 504.1,1203.2 504.7,1204.0 505.4,1203.2 506.0,1204.0 506.7,1203.2 507.3,1204.0 508.0,1203.2 508.6,1204.0 509.3,1203.2 509.9,1204.0 510.6,1203.2 511.2,1204.0 511.9,1203.2 512.5,1204.0 513.2,1203.2 513.8,1204.0 514.5,1203.2 515.1,1204.0 515.8,1203.2 516.4,1204.0 517.1,1203.2 517.7,1204.0 518.4,1203.2 519.0,1204.0 519.7,1203.2 520.3,1204.0 521.0,1203.2 521.6,1204.0 522.3,1203.2 522.9,1204.0 523.6,1203.2 524.2,1204.0 524.9,1203.2 525.5,1204.0 526.2,1203.2 526.8,1204.0 527.5,1203.2 528.1,1204.0 528.8,1203.2 529.4,1204.0 530.1,1203.2 530.7,1204.0 531.4,1203.2 532.0,1204.0 532.7,1203.2 533.3,1204.0 534.0,1203.2 534.6,1204.0 535.3,1203.2 535.9,1204.0 536.6,1203.2 537.2,1204.0 537.9,1203.2 538.5,1204.0 539.2,1203.2 539.8,1204.0 540.5,1203.2 541.1,1204.0 541.8,1203.2 542.4,1204.0 543.1,1203.2 543.7,1204.0 544.4,1203.2 545.0,1204.0 545.7,1203.2 546.3,1204.0 547.0,1203.2 547.6,1204.0 548.3,1203.2 548.9,1204.0 549.6,1203.2 550.2,1204.0 550.9,1203.2 551.5,1204.0 552.2,1203.2 552.8,1204.0 553.5,1203.2 554.1,1204.0 554.8,1203.2 555.4,1204.0 556.1,1203.2 556.7,1204.0 557.4,1203.2 558.0,1204.0 558.7,1203.2 559.3,1204.0 560.0,1203.2 560.6,1204.0 561.3,1203.2 561.9,1204.0 562.6,1203.2 563.2,1204.0 563.9,1203.2 564.5,1204.0 565.2,1203.2 565.8,1204.0 566.5,1203.2 567.1,1204.0 567.8,1203.2 568.4,1204.0 569.1,1203.2 569.7,1204.0 570.4,1203.2 571.0,1204.0 571.7,1203.2 572.3,1204.0 573.0,1203.2 573.6,1204.0 574.3,1203.2 574.9,1204.0 575.6,1203.2 576.2,1204.0 576.9,1203.2 577.5,1204.0 578.2,1203.2 578.8,1204.0 579.5,1203.2 580.1,1204.0 580.8,1203.2 581.4,1204.0 582.1,1203.2 582.7,1204.0 583.4,1203.2 584.0,1204.0 584.7,1203.2 585.3,1204.0 586.0,1203.2 586.6,1204.0 587.3,1203.1 587.9,1203.9 588.6,1203.1 589.2,1203.9 589.9,1203.1 590.5,1203.9 591.2,1203.1 591.8,1203.9 592.5,1203.1 593.1,1203.9 593.8,1203.1 594.4,1203.9 595.1,1203.1 595.7,1203.9 596.4,1203.1 597.0,1203.9 597.7,1203.1 598.3,1203.9 599.0,1203.1 599.6,1203.9 600.3,1203.1 600.9,1203.9 601.6,1203.1 602.2,1203.9 602.9,1203.1 603.5,1203.9 604.2,1203.1 604.8,1203.9 605.5,1203.1 606.1,1203.9 606.8,1203.1 607.4,1203.9 608.1,1203.1 608.7,1203.9 609.4,1203.1 610.0,1203.9 610.7,1203.2 611.3,1204.0 612.0,1203.2 612.6,1204.0 613.3,1203.2 613.9,1204.0 614.6,1203.2 615.2,1204.0 615.9,1203.2 616.5,1204.0 617.2,1203.2 617.8,1204.0 618.5,1203.2 619.1,1204.0 619.8,1203.2 620.4,1204.0 621.1,1203.2 621.7,1204.0 622.4,1203.2 623.0,1204.0 623.7,1203.2 624.3,1204.0 625.0,1203.2 625.6,1204.0 626.3,1203.2 626.9,1204.0 627.6,1203.2 628.2,1204.0 628.9,1203.2 629.5,1204.0 630.2,1203.2 630.8,1204.0 631.5,1203.2 632.1,1204.0 632.8,1203.2 633.4,1204.0 634.1,1203.2 634.7,1204.0 635.4,1203.2 636.0,1204.0 636.7,1203.2 637.3,1204.0 638.0,1203.2 638.6,1204.0 639.3,1203.2 639.9,1204.0 640.6,1203.2 641.2,1204.0 641.9,1203.2 642.5,1204.0 643.2,1203.2 643.8,1204.0 644.5,1203.2 645.1,1204.0 645.8,1203.2 646.4,1204.0 647.1,1203.2 647.7,1204.0 648.4,1203.2 649.0,1204.0 649.7,1203.2 650.3,1204.0 651.0,1203.2 651.6,1204.0 652.3,1203.2 652.9,1204.0 653.6,1203.2 654.2,1204.0 654.9,1203.2 655.5,1204.0 656.2,1203.2 656.8,1204.0 657.5,1203.2 658.1,1204.0 658.8,1203.2 659.4,1204.0 660.1,1203.2 660.7,1204.0 661.4,1203.2 662.0,1204.0 662.7,1203.2 663.3,1204.0 664.0,1203.2 664.6,1204.0 665.3,1203.2 665.9,1204.0 666.6,1203.2 667.2,1204.0 667.9,1203.2 668.5,1204.0 669.2,1203.2 669.8,1204.0 670.5,1203.2 671.1,1204.0 671.8,1203.2 672.4,1204.0 673.1,1203.2 673.7,1204.0 674.4,1203.2 675.0,1204.0 675.7,1203.2 676.3,1204.0 677.0,1203.2 677.6,1204.0 678.3,1203.2 678.9,1204.0 679.6,1203.2 680.2,1204.0 680.9,1203.2 681.5,1204.0 682.2,1203.2 682.8,1204.0 683.5,1203.2 684.1,1204.0 684.8,1203.2 685.4,1204.0 686.1,1203.2 686.7,1204.0 687.4,1203.2 688.0,1204.0 688.7,1203.2 689.3,1204.0 690.0,1203.2 690.6,1204.0 691.3,1203.2 691.9,1204.0 692.6,1203.2 693.2,1204.0 693.9,1203.2 694.5,1204.0 695.2,1203.2 695.8,1204.0 696.5,1203.2 697.1,1204.0 697.8,1203.2 698.4,1204.0 699.1,1203.2 699.7,1204.0 700.4,1203.2 701.0,1204.0 701.7,1203.2 702.3,1204.0 703.0,1203.2 703.6,1204.0 704.3,1203.2 704.9,1204.0 705.6,1203.2 706.2,1204.0 706.9,1203.2 707.5,1204.0 708.2,1203.2 708.8,1204.0 709.5,1203.2 710.1,1204.0 710.8,1203.2 711.4,1204.0 712.1,1203.2 712.7,1204.0 713.4,1203.2 714.0,1204.0 714.7,1203.2 715.3,1204.0 716.0,1203.2 716.6,1204.0 717.3,1203.2 717.9,1204.0 718.6,1203.2 719.2,1204.0 719.9,1203.2 720.5,1204.0 721.2,1203.2 721.8,1204.0 722.5,1203.2 723.1,1204.0 723.8,1203.2 724.4,1204.0 725.1,1203.2 725.7,1204.0 726.4,1203.2 727.0,1204.1 727.7,1203.3 728.3,1204.1 729.0,1203.3 729.6,1204.1 730.3,1203.3 730.9,1204.1 731.6,1203.3 732.2,1204.1 732.9,1203.3 733.5,1204.1 734.2,1203.3 734.8,1204.1 735.5,1203.3 736.1,1204.1 736.8,1203.3 737.4,1204.1 738.1,1203.3 738.7,1204.1 739.4,1203.3 740.0,1204.1 740.7,1203.3 741.3,1204.1 742.0,1203.3 742.6,1204.1 743.3,1203.3 743.9,1204.1 744.6,1203.3 745.2,1204.1 745.9,1203.3 746.5,1204.1 747.2,1203.3 747.8,1204.1 748.5,1203.3 749.1,1204.1 749.8,1203.3 750.4,1204.1 751.1,1203.3 751.7,1204.1 752.4,1203.3 753.0,1204.1 753.7,1203.3 754.3,1204.1 755.0,1203.3 755.6,1204.1 756.3,1203.3 756.9,1204.1 757.6,1203.3 758.2,1204.1 758.9,1203.3 759.5,1204.1 760.2,1203.3 760.8,1204.1 761.5,1203.3 762.1,1204.1 762.8,1203.3 763.4,1204.1 764.1,1203.3 764.7,1204.1 765.4,1203.3 766.0,1204.1 766.7,1203.3 767.3,1204.1 768.0,1203.3 768.6,1204.1 769.3,1203.3 769.9,1204.1 770.6,1203.3 771.2,1204.1 771.9,1203.3 772.5,1204.1 773.2,1203.3 773.8,1204.1 774.5,1203.3 775.1,1204.1 775.8,1203.3 776.4,1204.1 777.1,1203.3 777.7,1204.1 778.4,1203.3 779.0,1204.1 779.7,1203.3 780.3,1204.1 781.0,1203.3 781.6,1204.1 782.3,1203.3 782.9,1204.1 783.6,1203.3 784.2,1204.1 784.9,1203.3 785.5,1204.1 786.2,1203.3 786.8,1204.1 787.5,1203.3 788.1,1204.1 788.8,1203.3 789.4,1204.1 790.1,1203.3 790.7,1204.1 791.4,1203.3 792.0,1204.1 792.7,1203.3 793.3,1204.1 794.0,1203.3 794.6,1204.1 795.3,1203.3 795.9,1204.1 796.6,1203.3 797.2,1204.1 797.9,1203.3 798.5,1204.1 799.2,1203.3 799.8,1204.1 800.5,1203.3 801.1,1204.1 801.8,1203.3 802.4,1204.1 803.1,1203.3 803.7,1204.1 804.4,1203.3 805.0,1204.1 805.7,1203.3 806.3,1204.1 807.0,1203.3 807.6,1204.1 808.3,1203.3 808.9,1204.1 809.6,1203.3 810.2,1204.1 810.9,1203.3 811.5,1204.1 812.2,1203.3 812.8,1204.1 813.5,1203.3 814.1,1204.1 814.8,1203.3 815.4,1204.1 816.1,1203.3 816.7,1204.1 817.4,1203.3 818.0,1204.1 818.7,1203.3 819.3,1204.0 820.0,1203.2 820.6,1204.0 821.3,1203.2 821.9,1204.0 822.6,1203.2 823.2,1204.0 823.9,1203.2 824.5,1204.0 825.2,1203.2 825.8,1204.0 826.5,1203.2 827.1,1204.0 827.8,1203.2 828.4,1204.0 829.1,1203.2 829.7,1204.0 830.4,1203.2 831.0,1204.0 831.7,1203.2 832.3,1204.0 833.0,1203.2 833.6,1204.0 834.3,1203.2 834.9,1204.0 835.6,1203.2 836.2,1204.0 836.9,1203.2 837.5,1203.9 838.2,1203.1 838.8,1203.9 839.5,1203.1 840.1,1203.9 840.8,1203.1 841.4,1203.9 842.1,1203.1 842.7,1203.9 843.4,1203.1 844.0,1203.9 844.7,1203.1 845.3,1203.9 846.0,1203.1 846.6,1203.9 847.3,1203.1 847.9,1203.9 848.6,1203.1 849.2,1203.9 849.9,1203.1 850.5,1203.9 851.2,1203.0 851.8,1203.8 852.5,1203.0 853.1,1203.8 853.8,1203.0 854.4,1203.8 855.1,1203.0 855.7,1203.8 856.4,1203.0 857.0,1203.8 857.7,1203.0 858.3,1203.8 859.0,1203.0 859.6,1203.8 860.3,1203.0 860.9,1203.8 861.6,1203.0 862.2,1203.8 862.9,1203.0 863.5,1203.8 864.2,1202.9 864.8,1203.7 865.5,1202.9 866.1,1203.7 866.8,1202.9 867.4,1203.7 868.1,1202.9 868.7,1203.7 869.4,1202.9 870.0,1203.7 870.7,1202.9 871.3,1203.7 872.0,1202.9 872.6,1203.7 873.3,1202.9 873.9,1203.7 874.6,1202.9 875.2,1203.7 875.9,1202.9 876.5,1203.7 877.2,1202.9 877.8,1203.6 878.5,1202.8 879.1,1203.6 879.8,1202.8 880.4,1203.6 881.1,1202.8 881.7,1203.6 882.4,1202.8 883.0,1203.6 883.7,1202.8 884.3,1203.6 885.0,1202.8 885.6,1203.6 886.3,1202.8 886.9,1203.6 887.6,1202.8 888.2,1203.6 888.9,1202.8 889.5,1203.6 890.2,1202.8 890.8,1203.6 891.5,1202.8 892.1,1203.6 892.8,1202.8 893.4,1203.6 894.1,1202.8 894.7,1203.5 895.4,1202.7 896.0,1203.5 896.7,1202.7 897.3,1203.5 898.0,1202.7 898.6,1203.5 899.3,1202.7 899.9,1203.5 900.6,1202.7 901.2,1203.5 901.9,1202.7 902.5,1203.5 903.2,1202.7 903.8,1203.5 904.5,1202.7 905.1,1203.5 905.8,1202.7 906.4,1203.5 907.1,1202.7 907.7,1203.5 908.4,1202.7 909.0,1203.5 909.7,1202.7 910.3,1203.5 911.0,1202.7 911.6,1203.5 912.3,1202.7 912.9,1203.5 913.6,1202.7 914.2,1203.5 914.9,1202.7 915.5,1203.5 916.2,1202.7 916.8,1203.5 917.5,1202.7 918.1,1203.5 918.8,1202.7 919.4,1203.5 920.1,1202.7 920.7,1203.5 921.4,1202.7 922.0,1203.5 922.7,1202.7 923.3,1203.5 924.0,1202.7 924.6,1203.5 925.3,1202.7 925.9,1203.5 926.6,1202.7 927.2,1203.5 927.9,1202.7 928.5,1203.5 929.2,1202.7 929.8,1203.5 930.5,1202.7 931.1,1203.5 931.8,1202.6 932.4,1203.4 933.1,1202.6 933.7,1203.4 934.4,1202.6 935.0,1203.4 935.7,1202.6 936.3,1203.4 937.0,1202.6 937.6,1203.4 938.3,1202.6 938.9,1203.4 939.6,1202.6 940.2,1203.4 940.9,1202.6 941.5,1203.4 942.2,1202.6 942.8,1203.4 943.5,1202.6 944.1,1203.4 944.8,1202.6 945.4,1203.4 946.1,1202.6 946.7,1203.4 947.4,1202.6 948.0,1203.4 948.7,1202.6 949.3,1203.4 950.0,1202.6 950.6,1203.4 951.3,1202.6 951.9,1203.4 952.6,1202.6 953.2,1203.4 953.9,1202.5 954.5,1203.3 955.2,1202.5 955.8,1203.3 956.5,1202.5 957.1,1203.3 957.8,1202.5 958.4,1203.3 959.1,1202.4 959.7,1203.2 960.4,1202.4 961.0,1203.2 961.7,1202.4 962.3,1203.2 963.0,1202.3 963.6,1203.1 964.3,1202.3 964.9,1203.1 965.6,1202.2 966.2,1203.0 966.9,1202.2 967.5,1203.0 968.2,1202.1 968.8,1202.9 969.5,1202.1 970.1,1202.9 970.8,1202.0 971.4,1202.8 972.1,1202.0 972.7,1202.7 973.4,1201.9 974.0,1202.7 974.7,1201.9 975.3,1202.6 976.0,1201.8 976.6,1202.6 977.3,1201.7 977.9,1202.5 978.6,1201.6 979.2,1202.4 979.9,1201.6 980.5,1202.3 981.2,1201.5 981.8,1202.3 982.5,1201.4 983.1,1202.2 983.8,1201.4 984.4,1202.1 985.1,1201.3 985.7,1202.0 986.4,1201.2 987.0,1202.0 987.7,1201.1 988.3,1201.9 989.0,1201.0 989.6,1201.8 990.3,1201.0 990.9,1201.7 991.6,1200.9 992.2,1201.6 992.9,1200.8 993.5,1201.5 994.2,1200.7 994.8,1201.5 995.5,1200.6 996.1,1201.4 996.8,1200.5 997.4,1201.3 998.1,1200.4 998.7,1201.2 999.4,1200.3 1000.0,1201.1 1000.7,1200.3 1001.3,1201.0 1002.0,1200.2 1002.6,1200.9 1003.3,1200.1 1003.9,1200.8 1004.6,1199.9 1005.2,1200.7 1005.9,1199.8 1006.5,1200.6 1007.2,1199.7 1007.8,1200.5 1008.5,1199.6 1009.1,1200.3 1009.8,1199.5 1010.4,1200.2 1011.1,1199.3 1011.7,1200.1 1012.4,1199.2 1013.0,1199.9 1013.7,1199.0 1014.3,1199.8 1015.0,1198.9 1015.6,1199.6 1016.3,1198.7 1016.9,1199.5 1017.6,1198.6 1018.2,1199.3 1018.9,1198.4 1019.5,1199.1 1020.2,1198.2 1020.8,1199.0 1021.5,1198.1 1022.1,1198.8 1022.8,1197.9 1023.4,1198.6 1024.1,1197.7 1024.7,1198.4 1025.4,1197.5 1026.0,1198.2 1026.7,1197.3 1027.3,1198.0 1028.0,1197.1 1028.6,1197.8 1029.3,1196.9 1029.9,1197.6 1030.6,1196.7 1031.2,1197.4 1031.9,1196.5 1032.5,1197.2 1033.2,1196.3 1033.8,1197.0 1034.5,1196.1 1035.1,1196.8 1035.8,1195.9 1036.4,1196.6 1037.1,1195.7 1037.7,1196.3 1038.4,1195.4 1039.0,1196.1 1039.7,1195.2 1040.3,1195.9 1041.0,1195.0 1041.6,1195.7 1042.3,1194.7 1042.9,1195.4 1043.6,1194.5 1044.2,1195.2 1044.9,1194.3 1045.5,1195.0 1046.2,1194.0 1046.8,1194.7 1047.5,1193.8 1048.1,1194.5 1048.8,1193.5 1049.4,1194.2 1050.1,1193.3 1050.7,1194.0 1051.4,1193.0 1052.0,1193.8 1052.7,1192.8 1053.3,1193.5 1054.0,1192.5 1054.6,1193.2 1055.3,1192.2 1055.9,1192.9 1056.6,1191.9 1057.2,1192.6 1057.9,1191.6 1058.5,1192.4 1059.2,1191.3 1059.8,1192.0 1060.5,1191.0 1061.1,1191.7 1061.8,1190.7 1062.4,1191.4 1063.1,1190.3 1063.7,1191.1 1064.4,1190.0 1065.0,1190.7 1065.7,1189.6 1066.3,1190.4 1067.0,1189.3 1067.6,1190.0 1068.3,1188.9 1068.9,1189.7 1069.6,1188.5 1070.2,1189.3 1070.9,1188.2 1071.5,1188.9 1072.2,1187.8 1072.8,1188.6 1073.5,1187.4 1074.1,1188.2 1074.8,1187.0 1075.4,1187.8 1076.1,1186.6 1076.7,1187.4 1077.4,1186.2 1078.0,1187.0 1078.7,1185.7 1079.3,1186.6 1080.0,1185.3 1080.6,1186.1 1081.3,1184.9 1081.9,1185.7 1082.6,1184.4 1083.2,1185.3 1083.9,1184.0 1084.5,1184.9 1085.2,1183.6 1085.8,1184.4 1086.5,1183.1 1087.1,1184.0 1087.8,1182.7 1088.4,1183.5 1089.1,1182.2 1089.7,1183.1 1090.4,1181.7 1091.0,1182.6 1091.7,1181.3 1092.3,1182.2 1093.0,1180.8 1093.6,1181.7 1094.3,1180.3 1094.9,1181.2 1095.6,1179.8 1096.2,1180.8 1096.9,1179.4 1097.5,1180.3 1098.2,1178.9 1098.8,1179.8 1099.5,1178.4 1100.1,1179.3 1100.8,1177.9 1101.4,1178.9 1102.1,1177.4 1102.7,1178.4 1103.4,1176.9 1104.0,1177.9 1104.7,1176.4 1105.3,1177.3 1106.0,1175.8 1106.6,1176.8 1107.3,1175.3 1107.9,1176.3 1108.6,1174.7 1109.2,1175.7 1109.9,1174.2 1110.5,1175.2 1111.2,1173.6 1111.8,1174.6 1112.5,1173.0 1113.1,1174.1 1113.8,1172.4 1114.4,1173.5 1115.1,1171.8 1115.7,1172.9 1116.4,1171.2 1117.0,1172.3 1117.7,1170.6 1118.3,1171.7 1119.0,1170.0 1119.6,1171.1 1120.3,1169.3 1120.9,1170.5 1121.6,1168.7 1122.2,1169.8 1122.9,1168.1 1123.5,1169.2 1124.2,1167.4 1124.8,1168.6 1125.5,1166.8 1126.1,1167.9 1126.8,1166.1 1127.4,1167.3 1128.1,1165.4 1128.7,1166.6 1129.4,1164.7 1130.0,1166.0 1130.7,1164.1 1131.3,1165.3 1132.0,1163.4 1132.6,1164.6 1133.3,1162.7 1133.9,1163.9 1134.6,1162.0 1135.2,1163.2 1135.9,1161.3 1136.5,1162.6 1137.2,1160.6 1137.8,1161.9 1138.5,1159.8 1139.1,1161.2 1139.8,1159.1 1140.4,1160.5 1141.1,1158.4 1141.7,1159.8 1142.4,1157.7 1143.0,1159.0 1143.7,1156.9 1144.3,1158.3 1145.0,1156.2 1145.6,1157.6 1146.3,1155.5 1146.9,1156.9 1147.6,1154.7 1148.2,1156.2 1148.9,1154.0 1149.5,1155.4 1150.2,1153.2 1150.8,1154.7 1151.5,1152.5 1152.1,1153.9 1152.8,1151.7 1153.4,1153.2 1154.1,1151.0 1154.7,1152.4 1155.4,1150.2 1156.0,1151.7 1156.7,1149.5 1157.3,1150.9 1158.0,1148.7 1158.6,1150.1 1159.3,1148.0 1159.9,1149.4 1160.6,1147.2 1161.2,1148.6 1161.9,1146.4 1162.5,1147.8 1163.2,1145.7 1163.8,1147.1 1164.5,1144.9 1165.1,1146.3 1165.8,1144.1 1166.4,1145.5 1167.1,1143.3 1167.7,1144.7 1168.4,1142.5 1169.0,1143.9 1169.7,1141.7 1170.3,1143.1 1171.0,1140.9 1171.6,1142.3 1172.3,1140.0 1172.9,1141.4 1173.6,1139.2 1174.2,1140.6 1174.9,1138.4 1175.5,1139.8 1176.2,1137.5 1176.8,1138.9 1177.5,1136.7 1178.1,1138.1 1178.8,1135.8 1179.4,1137.2 1180.1,1135.0 1180.7,1136.3 1181.4,1134.1 1182.0,1135.5 1182.7,1133.2 1183.3,1134.6 1184.0,1132.4 1184.6,1133.7 1185.3,1131.5 1185.9,1132.8 1186.6,1130.6 1187.2,1132.0 1187.9,1129.7 1188.5,1131.1 1189.2,1128.8 1189.8,1130.2 1190.5,1127.9 1191.1,1129.3 1191.8,1127.0 1192.4,1128.4 1193.1,1126.1 1193.7,1127.5 1194.4,1125.2 1195.0,1126.5 1195.7,1124.3 1196.3,1125.6 1197.0,1123.4 1197.6,1124.7 1198.3,1122.4 1198.9,1123.8 1199.6,1121.5 1200.2,1122.9 1200.9,1120.6 1201.5,1121.9 1202.2,1119.7 1202.8,1121.0 1203.5,1118.7 1204.1,1120.1 1204.8,1117.8 1205.4,1119.1 1206.1,1116.9 1206.7,1118.2 1207.4,1115.9 1208.0,1117.2 1208.7,1115.0 1209.3,1116.3 1210.0,1114.0 1210.6,1115.4 1211.3,1113.1 1211.9,1114.4 1212.6,1112.1 1213.2,1113.5 1213.9,1111.2 1214.5,1112.5 1215.2,1110.2 1215.8,1111.5 1216.5,1109.3 1217.1,1110.6 1217.8,1108.3 1218.4,1109.6 1219.1,1107.4 1219.7,1108.7 1220.4,1106.4 1221.0,1107.7 1221.7,1105.4 1222.3,1106.8 1223.0,1104.5 1223.6,1105.8 1224.3,1103.5 1224.9,1104.8 1225.6,1102.6 1226.2,1103.9 1226.9,1101.6 1227.5,1102.9 1228.2,1100.6 1228.8,1102.0 1229.5,1099.7 1230.1,1101.0 1230.8,1098.7 1231.4,1100.0 1232.1,1097.8 1232.7,1099.1 1233.4,1096.8 1234.0,1098.1 1234.7,1095.8 1235.3,1097.1 1236.0,1094.8 1236.6,1096.1 1237.3,1093.9 1237.9,1095.2 1238.6,1092.9 1239.2,1094.2 1239.9,1091.9 1240.5,1093.2 1241.2,1090.9 1241.8,1092.2 1242.5,1089.9 1243.1,1091.2 1243.8,1088.9 1244.4,1090.2 1245.1,1087.9 1245.7,1089.2 1246.4,1086.9 1247.0,1088.2 1247.7,1085.9 1248.3,1087.2 1249.0,1084.9 1249.6,1086.2 1250.3,1083.9 1250.9,1085.2 1251.6,1082.9 1252.2,1084.2 1252.9,1081.8 1253.5,1083.1 1254.2,1080.8 1254.8,1082.1 1255.5,1079.8 1256.1,1081.1 1256.8,1078.8 1257.4,1080.1 1258.1,1077.8 1258.7,1079.0 1259.4,1076.7 1260.0,1078.0 1260.7,1075.7 1261.3,1077.0 1262.0,1074.7 1262.6,1075.9 1263.3,1073.6 1263.9,1074.9 1264.6,1072.6 1265.2,1073.9 1265.9,1071.5 1266.5,1072.8 1267.2,1070.5 1267.8,1071.8 1268.5,1069.4 1269.1,1070.7 1269.8,1068.4 1270.4,1069.7 1271.1,1067.3 1271.7,1068.6 1272.4,1066.3 1273.0,1067.6 1273.7,1065.2 1274.3,1066.5 1275.0,1064.2 1275.6,1065.5 1276.3,1063.1 1276.9,1064.4 1277.6,1062.1 1278.2,1063.3 1278.9,1061.0 1279.5,1062.3 1280.2,1060.0 1280.8,1061.2 1281.5,1058.9 1282.1,1060.2 1282.8,1057.8 1283.4,1059.1 1284.1,1056.8 1284.7,1058.0 1285.4,1055.7 1286.0,1057.0 1286.7,1054.6 1287.3,1055.9 1288.0,1053.6 1288.6,1054.8 1289.3,1052.5 1289.9,1053.8 1290.6,1051.4 1291.2,1052.7 1291.9,1050.4 1292.5,1051.6 1293.2,1049.3 1293.8,1050.6 1294.5,1048.2 1295.1,1049.5 1295.8,1047.1 1296.4,1048.4 1297.1,1046.1 1297.7,1047.3 1298.4,1045.0 1299.0,1046.3 1299.7,1043.9 1300.3,1045.2 1301.0,1042.9 1301.6,1044.1 1302.3,1041.8 1302.9,1043.0 1303.6,1040.7 1304.2,1042.0 1304.9,1039.6 1305.5,1040.9 1306.2,1038.6 1306.8,1039.8 1307.5,1037.5 1308.1,1038.7 1308.8,1036.4 1309.4,1037.7 1310.1,1035.3 1310.7,1036.6 1311.4,1034.3 1312.0,1035.5 1312.7,1033.2 1313.3,1034.5 1314.0,1032.1 1314.6,1033.4 1315.3,1031.0 1315.9,1032.3 1316.6,1030.0 1317.2,1031.2 1317.9,1028.9 1318.5,1030.2 1319.2,1027.8 1319.8,1029.1 1320.5,1026.8 1321.1,1028.0 1321.8,1025.7 1322.4,1027.0 1323.1,1024.6 1323.7,1025.9 1324.4,1023.5 1325.0,1024.8 1325.7,1022.5 1326.3,1023.7 1327.0,1021.4 1327.6,1022.7 1328.3,1020.3 1328.9,1021.6 1329.6,1019.2 1330.2,1020.5 1330.9,1018.2 1331.5,1019.4 1332.2,1017.1 1332.8,1018.4 1333.5,1016.0 1334.1,1017.3 1334.8,1014.9 1335.4,1016.2 1336.1,1013.9 1336.7,1015.1 1337.4,1012.8 1338.0,1014.0 1338.7,1011.7 1339.3,1012.9 1340.0,1010.6 1340.6,1011.9 1341.3,1009.5 1341.9,1010.8 1342.6,1008.4 1343.2,1009.7 1343.9,1007.3 1344.5,1008.6 1345.2,1006.3 1345.8,1007.5 1346.5,1005.2 1347.1,1006.4 1347.8,1004.1 1348.4,1005.3 1349.1,1003.0 1349.7,1004.2 1350.4,1001.9 1351.0,1003.2 1351.7,1000.8 1352.3,1002.1 1353.0,999.7 1353.6,1001.0 1354.3,998.6 1354.9,999.9 1355.6,997.5 1356.2,998.8 1356.9,996.4 1357.5,997.7 1358.2,995.3 1358.8,996.6 1359.5,994.2 1360.1,995.5 1360.8,993.1 1361.4,994.4 1362.1,992.0 1362.7,993.3 1363.4,990.9 1364.0,992.2 1364.7,989.8 1365.3,991.1 1366.0,988.7 1366.6,990.0 1367.3,987.6 1367.9,988.9 1368.6,986.5 1369.2,987.8 1369.9,985.4 1370.5,986.7 1371.2,984.3 1371.8,985.6 1372.5,983.2 1373.1,984.5 1373.8,982.1 1374.4,983.3 1375.1,981.0 1375.7,982.2 1376.4,979.9 1377.0,981.1 1377.7,978.8 1378.3,980.0 1379.0,977.7 1379.6,978.9 1380.3,976.5 1380.9,977.8 1381.6,975.4 1382.2,976.7 1382.9,974.3 1383.5,975.6 1384.2,973.2 1384.8,974.4 1385.5,972.1 1386.1,973.3 1386.8,971.0 1387.4,972.2 1388.1,969.9 1388.7,971.1 1389.4,968.7 1390.0,970.0 1390.7,967.6 1391.3,968.9 1392.0,966.5 1392.6,967.7 1393.3,965.4 1393.9,966.6 1394.6,964.2 1395.2,965.5 1395.9,963.1 1396.5,964.4 1397.2,962.0 1397.8,963.2 1398.5,960.9 1399.1,962.1 1399.8,959.7 1400.4,961.0 1401.1,958.6 1401.7,959.9 1402.4,957.5 1403.0,958.7 1403.7,956.4 1404.3,957.6 1405.0,955.2 1405.6,956.5 1406.3,954.1 1406.9,955.3 1407.6,952.9 1408.2,954.2 1408.9,951.8 1409.5,953.0 1410.2,950.7 1410.8,951.9 1411.5,949.5 1412.1,950.7 1412.8,948.4 1413.4,949.6 1414.1,947.2 1414.7,948.5 1415.4,946.1 1416.0,947.3 1416.7,944.9 1417.3,946.2 1418.0,943.8 1418.6,945.0 1419.3,942.6 1419.9,943.8 1420.6,941.5 1421.2,942.7 1421.9,940.3 1422.5,941.5 1423.2,939.2 1423.8,940.4 1424.5,938.0 1425.1,939.2 1425.8,936.8 1426.4,938.1 1427.1,935.7 1427.7,936.9 1428.4,934.5 1429.0,935.7 1429.7,933.4 1430.3,934.6 1431.0,932.2 1431.6,933.4 1432.3,931.0 1432.9,932.3 1433.6,929.9 1434.2,931.1 1434.9,928.7 1435.5,929.9 1436.2,927.5 1436.8,928.8 1437.5,926.4 1438.1,927.6 1438.8,925.2 1439.4,926.4 1440.1,924.0 1440.7,925.3 1441.4,922.9 1442.0,924.1 1442.7,921.7 1443.3,922.9 1444.0,920.5 1444.6,921.8 1445.3,919.4 1445.9,920.6 1446.6,918.2 1447.2,919.4 1447.9,917.0 1448.5,918.3 1449.2,915.9 1449.8,917.1 1450.5,914.7 1451.1,915.9 1451.8,913.5 1452.4,914.7 1453.1,912.4 1453.7,913.6 1454.4,911.2 1455.0,912.4 1455.7,910.0 1456.3,911.2 1457.0,908.9 1457.6,910.1 1458.3,907.7 1458.9,908.9 1459.6,906.5 1460.2,907.7 1460.9,905.4 1461.5,906.6 1462.2,904.2 1462.8,905.4 1463.5,903.0 1464.1,904.2 1464.8,901.9 1465.4,903.1 1466.1,900.7 1466.7,901.9 1467.4,899.5 1468.0,900.8 1468.7,898.4 1469.3,899.6 1470.0,897.2 1470.6,898.4 1471.3,896.0 1471.9,897.3 1472.6,894.9 1473.2,896.1 1473.9,893.7 1474.5,895.0 1475.2,892.6 1475.8,893.8 1476.5,891.4 1477.1,892.6 1477.8,890.3 1478.4,891.5 1479.1,889.1 1479.7,890.3 1480.4,888.0 1481.0,889.2 1481.7,886.8 1482.3,888.0 1483.0,885.6 1483.6,886.9 1484.3,884.5 1484.9,885.7 1485.6,883.3 1486.2,884.6 1486.9,882.2 1487.5,883.4 1488.2,881.0 1488.8,882.3 1489.5,879.9 1490.1,881.1 1490.8,878.7 1491.4,880.0 1492.1,877.6 1492.7,878.8 1493.4,876.4 1494.0,877.7 1494.7,875.3 1495.3,876.5 1496.0,874.1 1496.6,875.4 1497.3,873.0 1497.9,874.2 1498.6,871.8 1499.2,873.1 1499.9,870.7 1500.5,871.9 1501.2,869.6 1501.8,870.8 1502.5,868.4 1503.1,869.6 1503.8,867.3 1504.4,868.5 1505.1,866.1 1505.7,867.3 1506.4,865.0 1507.0,866.2 1507.7,863.8 1508.3,865.0 1509.0,862.7 1509.6,863.9 1510.3,861.5 1510.9,862.8 1511.6,860.4 1512.2,861.6 1512.9,859.2 1513.5,860.5 1514.2,858.1 1514.8,859.3 1515.5,856.9 1516.1,858.2 1516.8,855.8 1517.4,857.0 1518.1,854.7 1518.7,855.9 1519.4,853.5 1520.0,854.7 1520.7,852.4 1521.3,853.6 1522.0,851.2 1522.6,852.4 1523.3,850.1 1523.9,851.3 1524.6,848.9 1525.2,850.1 1525.9,847.8 1526.5,849.0 1527.2,846.6 1527.8,847.9 1528.5,845.5 1529.1,846.7 1529.8,844.3 1530.4,845.6 1531.1,843.2 1531.7,844.4 1532.4,842.0 1533.0,843.3 1533.7,840.9 1534.3,842.1 1535.0,839.8 1535.6,841.0 1536.3,838.6 1536.9,839.8 1537.6,837.5 1538.2,838.7 1538.9,836.3 1539.5,837.5 1540.2,835.2 1540.8,836.4 1541.5,834.0 1542.1,835.3 1542.8,832.9 1543.4,834.1 1544.1,831.7 1544.7,833.0 1545.4,830.6 1546.0,831.8 1546.7,829.4 1547.3,830.7 1548.0,828.3 1548.6,829.5 1549.3,827.1 1549.9,828.4 1550.6,826.0 1551.2,827.2 1551.9,824.8 1552.5,826.1 1553.2,823.7 1553.8,824.9 1554.5,822.5 1555.1,823.8 1555.8,821.4 1556.4,822.6 1557.1,820.2 1557.7,821.5 1558.4,819.1 1559.0,820.3 1559.7,817.9 1560.3,819.2 1561.0,816.8 1561.6,818.0 1562.3,815.6 1562.9,816.9 1563.6,814.5 1564.2,815.7 1564.9,813.3 1565.5,814.6 1566.2,812.2 1566.8,813.4 1567.5,811.0 1568.1,812.3 1568.8,809.9 1569.4,811.1 1570.1,808.7 1570.7,809.9 1571.4,807.6 1572.0,808.8 1572.7,806.4 1573.3,807.6 1574.0,805.3 1574.6,806.5 1575.3,804.1 1575.9,805.3 1576.6,802.9 1577.2,804.2 1577.9,801.8 1578.5,803.0 1579.2,800.6 1579.8,801.8 1580.5,799.5 1581.1,800.7 1581.8,798.3 1582.4,799.5 1583.1,797.1 1583.7,798.4 1584.4,796.0 1585.0,797.2 1585.7,794.8 1586.3,796.0 1587.0,793.7 1587.6,794.9 1588.3,792.5 1588.9,793.7 1589.6,791.3 1590.2,792.6 1590.9,790.2 1591.5,791.4 1592.2,789.0 1592.8,790.2 1593.5,787.9 1594.1,789.1 1594.8,786.7 1595.4,787.9 1596.1,785.5 1596.7,786.8 1597.4,784.4 1598.0,785.6 1598.7,783.2 1599.3,784.5 1600.0,782.1 1600.6,783.3 1601.3,780.9 1601.9,782.1 1602.6,779.8 1603.2,781.0 1603.9,778.6 1604.5,779.8 1605.2,777.4 1605.8,778.7 1606.5,776.3 1607.1,777.5 1607.8,775.1 1608.4,776.3 1609.1,774.0 1609.7,775.2 1610.4,772.8 1611.0,774.0 1611.7,771.7 1612.3,772.9 1613.0,770.5 1613.6,771.7 1614.3,769.4 1614.9,770.6 1615.6,768.2 1616.2,769.4 1616.9,767.0 1617.5,768.3 1618.2,765.9 1618.8,767.1 1619.5,764.7 1620.1,766.0 1620.8,763.6 1621.4,764.8 1622.1,762.4 1622.7,763.7 1623.4,761.3 1624.0,762.5 1624.7,760.1 1625.3,761.4 1626.0,759.0 1626.6,760.2 1627.3,757.9 1627.9,759.1 1628.6,756.7 1629.2,757.9 1629.9,755.6 1630.5,756.8 1631.2,754.4 1631.8,755.7 1632.5,753.3 1633.1,754.5 1633.8,752.1 1634.4,753.4 1635.1,751.0 1635.7,752.2 1636.4,749.9 1637.0,751.1 1637.7,748.7 1638.3,750.0 1639.0,747.6 1639.6,748.8 1640.3,746.5 1640.9,747.7 1641.6,745.3 1642.2,746.6 1642.9,744.2 1643.5,745.4 1644.2,743.1 1644.8,744.3 1645.5,741.9 1646.1,743.2 1646.8,740.8 1647.4,742.1 1648.1,739.7 1648.7,740.9 1649.4,738.6 1650.0,739.8 1650.7,737.5 1651.3,738.7 1652.0,736.3 1652.6,737.6 1653.3,735.2 1653.9,736.5 1654.6,734.1 1655.2,735.3 1655.9,733.0 1656.5,734.2 1657.2,731.9 1657.8,733.1 1658.5,730.8 1659.1,732.0 1659.8,729.7 1660.4,730.9 1661.1,728.6 1661.7,729.8 1662.4,727.4 1663.0,728.7 1663.7,726.3 1664.3,727.6 1665.0,725.2 1665.6,726.5 1666.3,724.1 1666.9,725.4 1667.6,723.0 1668.2,724.3 1668.9,721.9 1669.5,723.2 1670.2,720.8 1670.8,722.1 1671.5,719.7 1672.1,721.0 1672.8,718.6 1673.4,719.9 1674.1,717.5 1674.7,718.7 1675.4,716.4 1676.0,717.6 1676.7,715.3 1677.3,716.5 1678.0,714.2 1678.6,715.4 1679.3,713.1 1679.9,714.3 1680.6,712.0 1681.2,713.2 1681.9,710.9 1682.5,712.1 1683.2,709.8 1683.8,711.0 1684.5,708.7 1685.1,709.9 1685.8,707.6 1686.4,708.8 1687.1,706.5 1687.7,707.7 1688.4,705.4 1689.0,706.6 1689.7,704.3 1690.3,705.5 1691.0,703.1 1691.6,704.4 1692.3,702.0 1692.9,703.3 1693.6,700.9 1694.2,702.2 1694.9,699.8 1695.5,701.1 1696.2,698.7 1696.8,700.0 1697.5,697.6 1698.1,698.8 1698.8,696.5 1699.4,697.7 1700.1,695.4 1700.7,696.6 1701.4,694.3 1702.0,695.5 1702.7,693.1 1703.3,694.4 1704.0,692.0 1704.6,693.3 1705.3,690.9 1705.9,692.1 1706.6,689.8 1707.2,691.0 1707.9,688.7 1708.5,689.9 1709.2,687.5 1709.8,688.8 1710.5,686.4 1711.1,687.6 1711.8,685.3 1712.4,686.5 1713.1,684.2 1713.7,685.4 1714.4,683.0 1715.0,684.3 1715.7,681.9 1716.3,683.1 1717.0,680.7 1717.6,682.0 1718.3,679.6 1718.9,680.8 1719.6,678.5 1720.2,679.7 1720.9,677.3 1721.5,678.6 1722.2,676.2 1722.8,677.4 1723.5,675.0 1724.1,676.3 1724.8,673.9 1725.4,675.1 1726.1,672.7 1726.7,673.9 1727.4,671.6 1728.0,672.8 1728.7,670.4 1729.3,671.6 1730.0,669.3 1730.6,670.5 1731.3,668.1 1731.9,669.3 1732.6,666.9 1733.2,668.1 1733.9,665.8 1734.5,667.0 1735.2,664.6 1735.8,665.8 1736.5,663.4 1737.1,664.6 1737.8,662.3 1738.4,663.5 1739.1,661.1 1739.7,662.3 1740.4,659.9 1741.0,661.1 1741.7,658.7 1742.3,660.0 1743.0,657.6 1743.6,658.8 1744.3,656.4 1744.9,657.6 1745.6,655.2 1746.2,656.4 1746.9,654.0 1747.5,655.2 1748.2,652.9 1748.8,654.1 1749.5,651.7 1750.1,652.9 1750.8,650.5 1751.4,651.7 1752.1,649.3 1752.7,650.5 1753.4,648.1 1754.0,649.3 1754.7,647.0 1755.3,648.2 1756.0,645.8 1756.6,647.0 1757.3,644.6 1757.9,645.8 1758.6,643.4 1759.2,644.6 1759.9,642.2 1760.5,643.4 1761.2,641.1 1761.8,642.3 1762.5,639.9 1763.1,641.1 1763.8,638.7 1764.4,639.9 1765.1,637.5 1765.7,638.7 1766.4,636.3 1767.0,637.6 1767.7,635.2 1768.3,636.4 1769.0,634.0 1769.6,635.2 1770.3,632.8 1770.9,634.0 1771.6,631.6 1772.2,632.9 1772.9,630.5 1773.5,631.7 1774.2,629.3 1774.8,630.5 1775.5,628.1 1776.1,629.3 1776.8,627.0 1777.4,628.2 1778.1,625.8 1778.7,627.0 1779.4,624.6 1780.0,625.8 1780.7,623.5 1781.3,624.7 1782.0,622.3 1782.6,623.5 1783.3,621.1 1783.9,622.3 1784.6,620.0 1785.2,621.2 1785.9,618.8 1786.5,620.0 1787.2,617.6 1787.8,618.9 1788.5,616.5 1789.1,617.7 1789.8,615.3 1790.4,616.5 1791.1,614.1 1791.7,615.4 1792.4,613.0 1793.0,614.2 1793.7,611.8 1794.3,613.0 1795.0,610.7 1795.6,611.9 1796.3,609.5 1796.9,610.7 1797.6,608.3 1798.2,609.6 1798.9,607.2 1799.5,608.4 1800.2,606.0 1800.8,607.2 1801.5,604.9 1802.1,606.1 1802.8,603.7 1803.4,604.9 1804.1,602.5 1804.7,603.8 1805.4,601.4 1806.0,602.6 1806.7,600.2 1807.3,601.4 1808.0,599.1 1808.6,600.3 1809.3,597.9 1809.9,599.1 1810.6,596.8 1811.2,598.0 1811.9,595.6 1812.5,596.8 1813.2,594.4 1813.8,595.7 1814.5,593.3 1815.1,594.5 1815.8,592.1 1816.5,593.3" stroke="none" marker-start="url(#mb)" marker-mid="url(#mb)" marker-end="url(#mb)"/>
</g>
<g font-family="'Liberation Sans', Arial, sans-serif" font-size="47.4" fill="#000">
<text transform="translate(166.0 1219.7) scale(1 1.02)" text-anchor="end">0</text>
<text transform="translate(166.0 1061.4) scale(1 1.02)" text-anchor="end">10</text>
<text transform="translate(166.0 903.1) scale(1 1.02)" text-anchor="end">20</text>
<text transform="translate(166.0 744.8) scale(1 1.02)" text-anchor="end">30</text>
<text transform="translate(166.0 586.5) scale(1 1.02)" text-anchor="end">40</text>
<text transform="translate(166.0 428.2) scale(1 1.02)" text-anchor="end">50</text>
<text transform="translate(166.0 269.9) scale(1 1.02)" text-anchor="end">60</text>
<text transform="translate(166.0 110.8) scale(1 1.02)" text-anchor="end">70</text>
<text transform="translate(270.1 1361.9) scale(1 1.02)" text-anchor="middle">0.6</text>
<text transform="translate(399.0 1361.9) scale(1 1.02)" text-anchor="middle">0.8</text>
<text transform="translate(527.8 1361.9) scale(1 1.02)" text-anchor="middle">1.0</text>
<text transform="translate(656.7 1361.9) scale(1 1.02)" text-anchor="middle">1.2</text>
<text transform="translate(785.6 1361.9) scale(1 1.02)" text-anchor="middle">1.4</text>
<text transform="translate(914.4 1361.9) scale(1 1.02)" text-anchor="middle">1.6</text>
<text transform="translate(1043.3 1361.9) scale(1 1.02)" text-anchor="middle">1.8</text>
<text transform="translate(1172.1 1361.9) scale(1 1.02)" text-anchor="middle">2.0</text>
<text transform="translate(1301.0 1361.9) scale(1 1.02)" text-anchor="middle">2.2</text>
<text transform="translate(1429.9 1361.9) scale(1 1.02)" text-anchor="middle">2.4</text>
<text transform="translate(1558.7 1361.9) scale(1 1.02)" text-anchor="middle">2.6</text>
<text transform="translate(1687.6 1361.9) scale(1 1.02)" text-anchor="middle">2.8</text>
<text transform="translate(1816.5 1361.9) scale(1 1.02)" text-anchor="middle">3.0</text>
</g>
<g font-family="'Liberation Serif', 'Times New Roman', serif" font-size="59.3" fill="#000">
<text y="1451.9" x="844.2 870.0 893.6 911.9 950.0 968.3 995.7 1017.0 1030.0 1045.3 1082.3 1123.1 1156.9">E (V vs. RHE)</text>
<text transform="translate(71.8 0) rotate(-90)"><tspan y="0" x="-873.0 -855.0 -838.6 -820.6 -775.4">j (mA</tspan><tspan y="6.0" x="-736.1">·</tspan><tspan y="0" x="-720.2 -694.5">cm</tspan><tspan y="-31.9" font-size="36" x="-649.1 -637.8">-2</tspan><tspan y="0" x="-620.9">)</tspan></text>
<rect x="273.9" y="29.0" width="655.7" height="266.2" fill="#fff" stroke="#000" stroke-width="2.1"/>
<text y="95.7" x="443.2 494.0 547.7 582.7 626.8 659.7 712.6 744.0">MWCNT@SS</text>
<text><tspan y="166.9" x="443.5 475.1 503.7">SnO</tspan><tspan y="189.5" font-size="43" x="543.0">2</tspan><tspan y="166.9" x="564.2 579.4 629.6 683.7 718.8 762.7 795.6 848.5 879.7">/MWCNT@SS</tspan></text>
<text><tspan y="257.6" x="428.2 461.1 488.5">PbO</tspan><tspan y="280.9" font-size="43" x="529.1">2</tspan><tspan y="257.6" x="549.9 565.6 603.6 646.4 683.7 736.7 767.8">/GNR@SS</tspan></text>
</g>
<rect x="357.5" y="70.0" width="14.5" height="14.05" fill="#000"/>
<circle cx="364.95" cy="147.85" r="8.0" fill="#f00"/>
<path d="M355.2 244.8L365.0 228.5L374.3 244.8Z" fill="#00f"/>
</svg>
</body></html>
